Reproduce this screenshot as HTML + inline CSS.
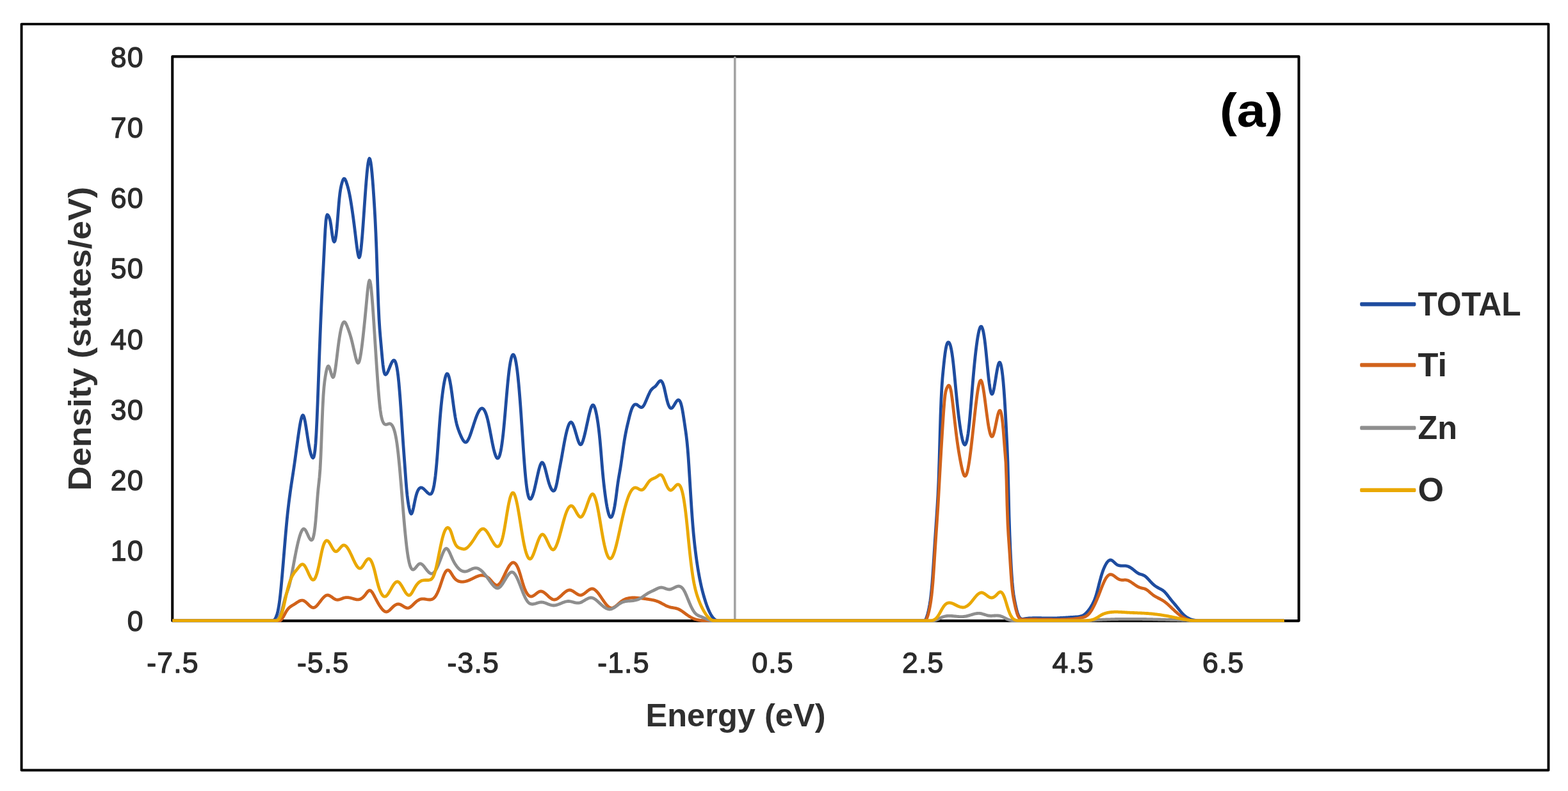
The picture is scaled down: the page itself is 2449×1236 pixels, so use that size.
<!DOCTYPE html>
<html lang="en">
<head>
<meta charset="utf-8">
<title>Density of states (a)</title>
<style>
html, body { margin: 0; padding: 0; background: #ffffff; }
body { width: 2449px; height: 1236px; overflow: hidden; }
svg { display: block; }
text { font-family: "Liberation Sans", sans-serif; }
.tick { font-size: 44.5px; letter-spacing: 1.2px; fill: #2b2b2b; stroke: #2b2b2b; stroke-width: 1.3px; stroke-linejoin: round; }
.title { font-size: 50.5px; font-weight: bold; fill: #303030; }
.leg { font-size: 52px; font-weight: bold; fill: #2a2a2a; }
.tag { font-size: 75px; font-weight: bold; fill: #000000; }
</style>
</head>
<body>
<svg width="2449" height="1236" viewBox="0 0 2449 1236">
<rect x="0" y="0" width="2449" height="1236" fill="#ffffff"/>
<rect x="33.6" y="37.6" width="2384.9" height="1165.9" fill="none" stroke="#000" stroke-width="3.9" stroke-linejoin="round"/>
<rect x="269.25" y="88.4" width="1759.35" height="881.70" fill="none" stroke="#000" stroke-width="4.1" stroke-linejoin="round"/>
<line x1="1147.8" y1="88.4" x2="1147.8" y2="970.1" stroke="#a3a3a3" stroke-width="3.6"/>
<defs><clipPath id="plotclip"><rect x="269.25" y="86" width="1761.3" height="886.0"/></clipPath></defs>
<g clip-path="url(#plotclip)">
<path d="M269.2 970.0 L422.0 970.0 L423.0 970.0 L424.0 970.0 L425.0 970.0 L426.0 970.0 L427.0 969.7 L428.0 969.0 L429.0 968.0 L430.0 966.5 L431.0 964.5 L432.0 962.0 L433.0 958.9 L434.0 955.0 L435.0 950.1 L436.0 944.0 L437.0 936.5 L438.0 927.7 L439.0 917.9 L440.0 907.2 L441.0 895.8 L442.0 884.0 L443.0 871.9 L444.0 859.8 L445.0 847.7 L446.0 836.0 L447.0 824.7 L448.0 814.0 L449.0 804.1 L450.0 795.0 L451.0 786.5 L452.0 778.6 L453.0 771.1 L454.0 764.0 L455.0 757.2 L456.0 750.6 L457.0 744.1 L458.0 737.5 L459.0 730.9 L460.0 724.0 L461.0 716.8 L462.0 709.5 L463.0 702.0 L464.0 694.6 L465.0 687.2 L466.0 680.1 L467.0 673.3 L468.0 667.0 L469.0 661.2 L470.0 656.3 L471.0 652.4 L472.0 649.8 L473.0 648.8 L474.0 649.5 L475.0 652.1 L476.0 656.1 L477.0 661.3 L478.0 667.3 L479.0 673.8 L480.0 680.5 L481.0 687.0 L482.0 693.1 L483.0 698.5 L484.0 703.4 L485.0 707.5 L486.0 710.9 L487.0 713.4 L488.0 715.0 L489.0 715.5 L490.0 714.3 L491.0 710.5 L492.0 703.6 L493.0 692.7 L494.0 677.0 L495.0 656.2 L496.0 631.6 L497.0 604.7 L498.0 577.0 L499.0 550.0 L500.0 524.2 L501.0 499.7 L502.0 477.0 L503.0 456.1 L504.0 436.4 L505.0 417.3 L506.0 397.9 L507.0 377.9 L508.0 359.1 L509.0 345.3 L510.0 338.1 L511.0 335.6 L512.0 336.0 L513.0 337.4 L514.0 339.2 L515.0 342.0 L516.0 346.3 L517.0 352.5 L518.0 360.0 L519.0 367.4 L520.0 373.2 L521.0 376.8 L522.0 378.0 L523.0 376.8 L524.0 373.1 L525.0 366.9 L526.0 358.0 L527.0 346.6 L528.0 333.9 L529.0 321.2 L530.0 310.0 L531.0 301.3 L532.0 294.9 L533.0 290.0 L534.0 286.1 L535.0 282.9 L536.0 280.5 L537.0 279.2 L538.0 279.1 L539.0 280.2 L540.0 282.2 L541.0 284.9 L542.0 288.0 L543.0 291.4 L544.0 295.2 L545.0 299.3 L546.0 304.0 L547.0 309.3 L548.0 315.1 L549.0 321.3 L550.0 328.0 L551.0 335.0 L552.0 342.3 L553.0 350.0 L554.0 358.0 L555.0 366.3 L556.0 374.6 L557.0 382.6 L558.0 390.0 L559.0 396.3 L560.0 400.8 L561.0 402.5 L562.0 400.7 L563.0 395.7 L564.0 388.0 L565.0 378.0 L566.0 366.1 L567.0 352.9 L568.0 338.9 L569.0 324.4 L570.0 310.0 L571.0 296.1 L572.0 283.2 L573.0 271.7 L574.0 261.9 L575.0 254.4 L576.0 249.4 L577.0 247.5 L578.0 248.9 L579.0 253.4 L580.0 260.6 L581.0 270.3 L582.0 281.9 L583.0 295.3 L584.0 310.0 L585.0 325.9 L586.0 343.9 L587.0 364.9 L588.0 390.0 L589.0 419.4 L590.0 449.8 L591.0 477.0 L592.0 497.9 L593.0 513.6 L594.0 525.9 L595.0 537.0 L596.0 548.3 L597.0 559.3 L598.0 569.2 L599.0 577.0 L600.0 582.0 L601.0 584.6 L602.0 585.4 L603.0 585.0 L604.0 583.9 L605.0 582.3 L606.0 580.2 L607.0 577.9 L608.0 575.5 L609.0 573.0 L610.0 570.5 L611.0 568.2 L612.0 566.2 L613.0 564.6 L614.0 563.5 L615.0 563.0 L616.0 563.2 L617.0 564.4 L618.0 566.6 L619.0 570.0 L620.0 574.7 L621.0 581.0 L622.0 589.0 L623.0 598.8 L624.0 610.2 L625.0 623.0 L626.0 637.0 L627.0 651.9 L628.0 667.3 L629.0 682.5 L630.0 697.0 L631.0 710.6 L632.0 724.0 L633.0 737.9 L634.0 751.6 L635.0 764.0 L636.0 774.1 L637.0 782.2 L638.0 788.7 L639.0 794.0 L640.0 798.4 L641.0 801.5 L642.0 803.0 L643.0 802.5 L644.0 800.3 L645.0 796.8 L646.0 792.5 L647.0 787.6 L648.0 782.6 L649.0 778.0 L650.0 774.0 L651.0 770.7 L652.0 768.0 L653.0 765.9 L654.0 764.3 L655.0 763.1 L656.0 762.4 L657.0 762.0 L658.0 762.0 L659.0 762.2 L660.0 762.7 L661.0 763.3 L662.0 764.1 L663.0 765.1 L664.0 766.1 L665.0 767.1 L666.0 768.1 L667.0 769.2 L668.0 770.1 L669.0 770.9 L670.0 771.6 L671.0 772.1 L672.0 772.2 L673.0 771.9 L674.0 771.0 L675.0 769.2 L676.0 766.6 L677.0 762.9 L678.0 758.0 L679.0 751.7 L680.0 744.1 L681.0 734.8 L682.0 724.0 L683.0 711.6 L684.0 698.1 L685.0 684.1 L686.0 670.2 L687.0 657.0 L688.0 645.0 L689.0 634.3 L690.0 624.8 L691.0 616.3 L692.0 608.8 L693.0 602.2 L694.0 596.5 L695.0 591.7 L696.0 587.9 L697.0 585.3 L698.0 584.0 L699.0 584.1 L700.0 585.5 L701.0 588.2 L702.0 592.0 L703.0 596.8 L704.0 602.5 L705.0 609.0 L706.0 616.2 L707.0 623.7 L708.0 631.3 L709.0 638.6 L710.0 645.4 L711.0 651.6 L712.0 657.0 L713.0 661.5 L714.0 665.3 L715.0 668.6 L716.0 671.5 L717.0 674.2 L718.0 676.8 L719.0 679.2 L720.0 681.5 L721.0 683.7 L722.0 685.6 L723.0 687.4 L724.0 688.9 L725.0 690.0 L726.0 690.8 L727.0 691.1 L728.0 691.0 L729.0 690.3 L730.0 689.2 L731.0 687.6 L732.0 685.7 L733.0 683.4 L734.0 680.9 L735.0 678.1 L736.0 675.2 L737.0 672.1 L738.0 669.0 L739.0 665.9 L740.0 662.8 L741.0 659.7 L742.0 656.8 L743.0 653.9 L744.0 651.2 L745.0 648.6 L746.0 646.3 L747.0 644.2 L748.0 642.3 L749.0 640.7 L750.0 639.5 L751.0 638.6 L752.0 638.1 L753.0 638.0 L754.0 638.3 L755.0 639.1 L756.0 640.3 L757.0 641.9 L758.0 644.0 L759.0 646.5 L760.0 649.5 L761.0 653.0 L762.0 657.0 L763.0 661.4 L764.0 666.2 L765.0 671.3 L766.0 676.6 L767.0 681.8 L768.0 687.1 L769.0 692.2 L770.0 697.0 L771.0 701.5 L772.0 705.5 L773.0 708.9 L774.0 711.8 L775.0 714.1 L776.0 715.5 L777.0 716.2 L778.0 716.0 L779.0 714.8 L780.0 712.7 L781.0 709.5 L782.0 705.2 L783.0 699.9 L784.0 693.4 L785.0 685.8 L786.0 677.0 L787.0 667.0 L788.0 656.2 L789.0 644.7 L790.0 632.9 L791.0 621.1 L792.0 609.7 L793.0 598.9 L794.0 589.0 L795.0 580.3 L796.0 572.8 L797.0 566.6 L798.0 561.7 L799.0 557.9 L800.0 555.4 L801.0 554.2 L802.0 554.1 L803.0 555.4 L804.0 557.8 L805.0 561.5 L806.0 566.5 L807.0 572.8 L808.0 580.2 L809.0 589.0 L810.0 599.0 L811.0 610.2 L812.0 622.5 L813.0 635.8 L814.0 650.0 L815.0 665.0 L816.0 680.3 L817.0 695.6 L818.0 710.3 L819.0 724.0 L820.0 736.3 L821.0 747.1 L822.0 756.4 L823.0 764.0 L824.0 770.0 L825.0 774.4 L826.0 777.5 L827.0 779.3 L828.0 779.9 L829.0 779.6 L830.0 778.4 L831.0 776.5 L832.0 774.0 L833.0 770.9 L834.0 767.3 L835.0 763.3 L836.0 759.0 L837.0 754.6 L838.0 750.0 L839.0 745.4 L840.0 740.9 L841.0 736.6 L842.0 732.7 L843.0 729.2 L844.0 726.3 L845.0 724.2 L846.0 722.9 L847.0 722.6 L848.0 723.4 L849.0 725.0 L850.0 727.5 L851.0 730.6 L852.0 734.2 L853.0 738.1 L854.0 742.1 L855.0 746.1 L856.0 750.0 L857.0 753.5 L858.0 756.7 L859.0 759.5 L860.0 761.9 L861.0 763.9 L862.0 765.4 L863.0 766.5 L864.0 767.0 L865.0 767.0 L866.0 766.3 L867.0 764.7 L868.0 762.0 L869.0 758.2 L870.0 753.5 L871.0 748.2 L872.0 742.6 L873.0 737.0 L874.0 731.7 L875.0 726.5 L876.0 721.3 L877.0 716.0 L878.0 710.4 L879.0 704.7 L880.0 699.0 L881.0 693.5 L882.0 688.2 L883.0 683.3 L884.0 678.6 L885.0 674.4 L886.0 670.6 L887.0 667.3 L888.0 664.5 L889.0 662.3 L890.0 660.7 L891.0 659.8 L892.0 659.6 L893.0 660.2 L894.0 661.5 L895.0 663.4 L896.0 665.8 L897.0 668.6 L898.0 671.8 L899.0 675.2 L900.0 678.7 L901.0 682.2 L902.0 685.5 L903.0 688.6 L904.0 691.2 L905.0 693.2 L906.0 694.4 L907.0 694.8 L908.0 694.2 L909.0 692.6 L910.0 690.2 L911.0 687.2 L912.0 683.7 L913.0 679.8 L914.0 675.6 L915.0 671.2 L916.0 666.6 L917.0 662.0 L918.0 657.4 L919.0 652.8 L920.0 648.4 L921.0 644.3 L922.0 640.6 L923.0 637.5 L924.0 635.0 L925.0 633.4 L926.0 632.8 L927.0 633.2 L928.0 634.7 L929.0 637.0 L930.0 640.3 L931.0 644.4 L932.0 649.3 L933.0 655.0 L934.0 661.5 L935.0 669.0 L936.0 677.6 L937.0 687.5 L938.0 698.7 L939.0 710.8 L940.0 723.2 L941.0 735.0 L942.0 745.7 L943.0 755.3 L944.0 763.9 L945.0 771.9 L946.0 779.2 L947.0 785.8 L948.0 791.6 L949.0 796.6 L950.0 800.8 L951.0 804.2 L952.0 806.6 L953.0 808.0 L954.0 808.4 L955.0 807.9 L956.0 806.4 L957.0 803.9 L958.0 800.5 L959.0 796.2 L960.0 791.0 L961.0 784.9 L962.0 778.0 L963.0 770.3 L964.0 762.4 L965.0 755.0 L966.0 748.5 L967.0 742.6 L968.0 736.9 L969.0 731.0 L970.0 724.5 L971.0 717.5 L972.0 710.3 L973.0 703.0 L974.0 696.0 L975.0 689.4 L976.0 683.5 L977.0 678.0 L978.0 673.0 L979.0 668.3 L980.0 663.9 L981.0 659.7 L982.0 655.5 L983.0 651.4 L984.0 647.6 L985.0 644.0 L986.0 640.9 L987.0 638.2 L988.0 636.0 L989.0 634.4 L990.0 633.1 L991.0 632.3 L992.0 631.9 L993.0 631.8 L994.0 632.0 L995.0 632.5 L996.0 633.2 L997.0 634.0 L998.0 634.8 L999.0 635.5 L1000.0 636.1 L1001.0 636.5 L1002.0 636.6 L1003.0 636.2 L1004.0 635.5 L1005.0 634.3 L1006.0 632.7 L1007.0 630.8 L1008.0 628.6 L1009.0 626.3 L1010.0 623.9 L1011.0 621.5 L1012.0 619.1 L1013.0 616.9 L1014.0 614.7 L1015.0 612.7 L1016.0 610.9 L1017.0 609.4 L1018.0 608.2 L1019.0 607.2 L1020.0 606.3 L1021.0 605.6 L1022.0 604.9 L1023.0 604.1 L1024.0 603.2 L1025.0 602.1 L1026.0 600.8 L1027.0 599.4 L1028.0 598.0 L1029.0 596.7 L1030.0 595.7 L1031.0 595.1 L1032.0 595.0 L1033.0 595.5 L1034.0 596.7 L1035.0 598.5 L1036.0 601.1 L1037.0 604.4 L1038.0 608.4 L1039.0 612.9 L1040.0 617.5 L1041.0 622.0 L1042.0 626.2 L1043.0 629.7 L1044.0 632.6 L1045.0 634.9 L1046.0 636.6 L1047.0 637.6 L1048.0 638.0 L1049.0 637.8 L1050.0 637.1 L1051.0 636.0 L1052.0 634.5 L1053.0 632.9 L1054.0 631.2 L1055.0 629.5 L1056.0 627.9 L1057.0 626.6 L1058.0 625.6 L1059.0 625.0 L1060.0 625.0 L1061.0 625.6 L1062.0 626.9 L1063.0 629.1 L1064.0 632.2 L1065.0 636.4 L1066.0 641.5 L1067.0 647.4 L1068.0 653.8 L1069.0 660.5 L1070.0 667.3 L1071.0 674.2 L1072.0 681.7 L1073.0 690.5 L1074.0 700.9 L1075.0 713.7 L1076.0 728.5 L1077.0 744.6 L1078.0 761.1 L1079.0 777.2 L1080.0 792.6 L1081.0 806.9 L1082.0 820.0 L1083.0 831.7 L1084.0 842.1 L1085.0 851.4 L1086.0 860.0 L1087.0 867.9 L1088.0 875.3 L1089.0 882.1 L1090.0 888.5 L1091.0 894.4 L1092.0 900.0 L1093.0 905.2 L1094.0 910.1 L1095.0 914.7 L1096.0 919.0 L1097.0 923.1 L1098.0 926.9 L1099.0 930.5 L1100.0 934.0 L1101.0 937.3 L1102.0 940.4 L1103.0 943.4 L1104.0 946.3 L1105.0 948.9 L1106.0 951.5 L1107.0 953.8 L1108.0 956.0 L1109.0 958.0 L1110.0 959.9 L1111.0 961.6 L1112.0 963.1 L1113.0 964.5 L1114.0 965.7 L1115.0 966.8 L1116.0 967.7 L1117.0 968.4 L1118.0 969.0 L1119.0 969.4 L1120.0 969.7 L1121.0 969.9 L1122.0 970.0 L1123.0 970.0 L1124.0 970.0 L1125.0 970.0 L1126.0 970.0 L1438.0 970.0 L1439.0 970.0 L1440.0 970.0 L1441.0 970.0 L1442.0 970.0 L1443.0 970.0 L1444.0 970.0 L1445.0 969.0 L1446.0 967.4 L1447.0 965.1 L1448.0 962.3 L1449.0 958.8 L1450.0 954.7 L1451.0 950.0 L1452.0 944.6 L1453.0 938.3 L1454.0 930.6 L1455.0 921.3 L1456.0 910.0 L1457.0 896.5 L1458.0 881.5 L1459.0 865.7 L1460.0 850.0 L1461.0 834.9 L1462.0 820.3 L1463.0 805.5 L1464.0 790.0 L1465.0 772.9 L1466.0 750.9 L1467.0 720.7 L1468.0 684.5 L1469.0 650.0 L1470.0 623.6 L1471.0 604.7 L1472.0 590.9 L1473.0 580.0 L1474.0 570.0 L1475.0 560.8 L1476.0 552.7 L1477.0 546.0 L1478.0 541.0 L1479.0 537.5 L1480.0 535.4 L1481.0 534.7 L1482.0 535.0 L1483.0 536.4 L1484.0 538.7 L1485.0 542.2 L1486.0 546.9 L1487.0 552.8 L1488.0 560.0 L1489.0 568.5 L1490.0 578.0 L1491.0 588.3 L1492.0 598.9 L1493.0 609.6 L1494.0 620.0 L1495.0 629.9 L1496.0 639.1 L1497.0 647.7 L1498.0 655.8 L1499.0 663.2 L1500.0 670.0 L1501.0 676.2 L1502.0 681.6 L1503.0 686.3 L1504.0 690.1 L1505.0 692.8 L1506.0 694.5 L1507.0 695.1 L1508.0 694.3 L1509.0 692.3 L1510.0 688.9 L1511.0 684.1 L1512.0 677.8 L1513.0 670.0 L1514.0 660.7 L1515.0 650.1 L1516.0 638.6 L1517.0 626.5 L1518.0 614.2 L1519.0 601.9 L1520.0 590.0 L1521.0 578.8 L1522.0 568.3 L1523.0 558.5 L1524.0 549.6 L1525.0 541.4 L1526.0 534.0 L1527.0 527.4 L1528.0 521.8 L1529.0 517.2 L1530.0 513.6 L1531.0 511.2 L1532.0 510.1 L1533.0 510.3 L1534.0 511.9 L1535.0 514.9 L1536.0 519.2 L1537.0 524.8 L1538.0 531.7 L1539.0 540.0 L1540.0 549.5 L1541.0 559.7 L1542.0 570.2 L1543.0 580.5 L1544.0 590.0 L1545.0 598.3 L1546.0 605.2 L1547.0 610.6 L1548.0 614.2 L1549.0 615.9 L1550.0 615.6 L1551.0 613.4 L1552.0 609.5 L1553.0 604.4 L1554.0 598.6 L1555.0 592.3 L1556.0 586.0 L1557.0 580.1 L1558.0 574.8 L1559.0 570.5 L1560.0 567.5 L1561.0 566.2 L1562.0 566.6 L1563.0 568.9 L1564.0 573.1 L1565.0 579.2 L1566.0 587.2 L1567.0 597.3 L1568.0 609.4 L1569.0 623.6 L1570.0 640.0 L1571.0 658.4 L1572.0 678.0 L1573.0 698.1 L1574.0 723.0 L1575.0 763.0 L1576.0 805.5 L1577.0 835.6 L1578.0 858.9 L1579.0 879.0 L1580.0 896.1 L1581.0 910.0 L1582.0 920.6 L1583.0 928.6 L1584.0 934.8 L1585.0 940.0 L1586.0 944.8 L1587.0 949.3 L1588.0 953.4 L1589.0 957.0 L1590.0 960.0 L1591.0 962.4 L1592.0 964.2 L1593.0 965.6 L1594.0 966.4 L1595.0 967.0 L1596.0 967.2 L1597.0 967.3 L1598.0 967.2 L1599.0 967.0 L1600.0 966.8 L1601.0 966.7 L1602.0 966.6 L1603.0 966.4 L1604.0 966.3 L1605.0 966.2 L1606.0 966.1 L1607.0 966.0 L1608.0 966.0 L1609.0 965.9 L1610.0 965.8 L1611.0 965.8 L1612.0 965.8 L1613.0 965.7 L1614.0 965.7 L1615.0 965.7 L1616.0 965.7 L1617.0 965.6 L1618.0 965.6 L1619.0 965.6 L1620.0 965.7 L1621.0 965.7 L1622.0 965.7 L1623.0 965.7 L1624.0 965.7 L1625.0 965.7 L1626.0 965.7 L1627.0 965.8 L1628.0 965.8 L1629.0 965.8 L1630.0 965.8 L1631.0 965.9 L1632.0 965.9 L1633.0 965.9 L1634.0 965.9 L1635.0 966.0 L1636.0 966.0 L1637.0 966.0 L1638.0 966.0 L1639.0 966.0 L1640.0 966.0 L1641.0 966.0 L1642.0 966.0 L1643.0 966.0 L1644.0 966.0 L1645.0 965.9 L1646.0 965.9 L1647.0 965.9 L1648.0 965.9 L1649.0 965.8 L1650.0 965.8 L1651.0 965.8 L1652.0 965.7 L1653.0 965.7 L1654.0 965.6 L1655.0 965.6 L1656.0 965.5 L1657.0 965.5 L1658.0 965.4 L1659.0 965.4 L1660.0 965.3 L1661.0 965.2 L1662.0 965.2 L1663.0 965.1 L1664.0 965.1 L1665.0 965.0 L1666.0 964.9 L1667.0 964.9 L1668.0 964.8 L1669.0 964.7 L1670.0 964.7 L1671.0 964.6 L1672.0 964.5 L1673.0 964.5 L1674.0 964.4 L1675.0 964.3 L1676.0 964.3 L1677.0 964.2 L1678.0 964.1 L1679.0 964.1 L1680.0 964.0 L1681.0 963.9 L1682.0 963.9 L1683.0 963.8 L1684.0 963.7 L1685.0 963.6 L1686.0 963.4 L1687.0 963.2 L1688.0 962.9 L1689.0 962.6 L1690.0 962.3 L1691.0 961.8 L1692.0 961.3 L1693.0 960.7 L1694.0 960.0 L1695.0 959.2 L1696.0 958.3 L1697.0 957.3 L1698.0 956.2 L1699.0 955.1 L1700.0 953.8 L1701.0 952.5 L1702.0 951.1 L1703.0 949.6 L1704.0 948.0 L1705.0 946.3 L1706.0 944.6 L1707.0 942.7 L1708.0 940.6 L1709.0 938.4 L1710.0 935.9 L1711.0 933.1 L1712.0 930.0 L1713.0 926.6 L1714.0 923.0 L1715.0 919.1 L1716.0 915.2 L1717.0 911.2 L1718.0 907.3 L1719.0 903.6 L1720.0 900.0 L1721.0 896.7 L1722.0 893.7 L1723.0 890.9 L1724.0 888.4 L1725.0 886.1 L1726.0 884.0 L1727.0 882.1 L1728.0 880.4 L1729.0 878.9 L1730.0 877.6 L1731.0 876.6 L1732.0 875.8 L1733.0 875.3 L1734.0 875.0 L1735.0 875.1 L1736.0 875.4 L1737.0 875.9 L1738.0 876.7 L1739.0 877.5 L1740.0 878.4 L1741.0 879.4 L1742.0 880.3 L1743.0 881.2 L1744.0 882.0 L1745.0 882.6 L1746.0 883.1 L1747.0 883.5 L1748.0 883.7 L1749.0 883.9 L1750.0 884.0 L1751.0 884.1 L1752.0 884.1 L1753.0 884.1 L1754.0 884.1 L1755.0 884.1 L1756.0 884.1 L1757.0 884.1 L1758.0 884.2 L1759.0 884.3 L1760.0 884.5 L1761.0 884.8 L1762.0 885.1 L1763.0 885.5 L1764.0 886.0 L1765.0 886.5 L1766.0 887.1 L1767.0 887.8 L1768.0 888.5 L1769.0 889.2 L1770.0 890.0 L1771.0 890.8 L1772.0 891.6 L1773.0 892.5 L1774.0 893.3 L1775.0 894.0 L1776.0 894.8 L1777.0 895.4 L1778.0 896.0 L1779.0 896.5 L1780.0 896.9 L1781.0 897.2 L1782.0 897.5 L1783.0 897.8 L1784.0 898.1 L1785.0 898.5 L1786.0 898.9 L1787.0 899.4 L1788.0 900.0 L1789.0 900.7 L1790.0 901.5 L1791.0 902.5 L1792.0 903.5 L1793.0 904.5 L1794.0 905.6 L1795.0 906.7 L1796.0 907.8 L1797.0 908.9 L1798.0 910.0 L1799.0 911.0 L1800.0 912.0 L1801.0 912.9 L1802.0 913.8 L1803.0 914.6 L1804.0 915.4 L1805.0 916.1 L1806.0 916.8 L1807.0 917.4 L1808.0 918.0 L1809.0 918.5 L1810.0 919.1 L1811.0 919.6 L1812.0 920.1 L1813.0 920.6 L1814.0 921.1 L1815.0 921.8 L1816.0 922.4 L1817.0 923.2 L1818.0 924.0 L1819.0 924.9 L1820.0 926.0 L1821.0 927.1 L1822.0 928.3 L1823.0 929.5 L1824.0 930.8 L1825.0 932.1 L1826.0 933.4 L1827.0 934.7 L1828.0 936.0 L1829.0 937.3 L1830.0 938.5 L1831.0 939.7 L1832.0 940.9 L1833.0 942.0 L1834.0 943.2 L1835.0 944.4 L1836.0 945.6 L1837.0 946.8 L1838.0 948.0 L1839.0 949.2 L1840.0 950.5 L1841.0 951.8 L1842.0 953.0 L1843.0 954.3 L1844.0 955.5 L1845.0 956.7 L1846.0 957.9 L1847.0 959.0 L1848.0 960.0 L1849.0 961.0 L1850.0 961.9 L1851.0 962.7 L1852.0 963.5 L1853.0 964.2 L1854.0 964.9 L1855.0 965.5 L1856.0 966.0 L1857.0 966.5 L1858.0 967.0 L1859.0 967.4 L1860.0 967.8 L1861.0 968.1 L1862.0 968.4 L1863.0 968.6 L1864.0 968.9 L1865.0 969.0 L1866.0 969.2 L1867.0 969.4 L1868.0 969.5 L1869.0 969.6 L1870.0 969.7 L1871.0 969.8 L1872.0 969.9 L1873.0 969.9 L1874.0 970.0 L1875.0 970.0 L1876.0 970.0 L2005.8 970.0" fill="none" stroke="#1e4c9f" stroke-width="4.8" stroke-linejoin="round" stroke-linecap="butt"/>
<path d="M269.2 970.0 L432.0 970.0 L433.0 970.0 L434.0 970.0 L435.0 970.0 L436.0 970.0 L437.0 970.0 L438.0 969.5 L439.0 968.7 L440.0 967.5 L441.0 966.1 L442.0 964.5 L443.0 962.8 L444.0 961.0 L445.0 959.2 L446.0 957.3 L447.0 955.6 L448.0 954.0 L449.0 952.6 L450.0 951.3 L451.0 950.2 L452.0 949.3 L453.0 948.4 L454.0 947.7 L455.0 947.0 L456.0 946.4 L457.0 945.8 L458.0 945.2 L459.0 944.6 L460.0 944.0 L461.0 943.4 L462.0 942.7 L463.0 942.0 L464.0 941.3 L465.0 940.7 L466.0 940.1 L467.0 939.5 L468.0 939.0 L469.0 938.6 L470.0 938.3 L471.0 938.2 L472.0 938.1 L473.0 938.2 L474.0 938.5 L475.0 939.0 L476.0 939.6 L477.0 940.3 L478.0 941.1 L479.0 942.1 L480.0 943.0 L481.0 944.0 L482.0 945.0 L483.0 946.0 L484.0 946.9 L485.0 947.7 L486.0 948.4 L487.0 948.9 L488.0 949.3 L489.0 949.5 L490.0 949.5 L491.0 949.2 L492.0 948.8 L493.0 948.1 L494.0 947.2 L495.0 946.2 L496.0 945.1 L497.0 943.9 L498.0 942.6 L499.0 941.3 L500.0 940.0 L501.0 938.7 L502.0 937.4 L503.0 936.1 L504.0 935.0 L505.0 933.9 L506.0 932.9 L507.0 932.0 L508.0 931.2 L509.0 930.6 L510.0 930.2 L511.0 930.0 L512.0 930.0 L513.0 930.1 L514.0 930.5 L515.0 930.9 L516.0 931.5 L517.0 932.1 L518.0 932.8 L519.0 933.5 L520.0 934.3 L521.0 935.0 L522.0 935.6 L523.0 936.2 L524.0 936.7 L525.0 937.0 L526.0 937.2 L527.0 937.3 L528.0 937.2 L529.0 937.1 L530.0 936.8 L531.0 936.5 L532.0 936.2 L533.0 935.8 L534.0 935.4 L535.0 935.0 L536.0 934.6 L537.0 934.3 L538.0 934.0 L539.0 933.8 L540.0 933.7 L541.0 933.6 L542.0 933.6 L543.0 933.6 L544.0 933.7 L545.0 933.8 L546.0 934.0 L547.0 934.2 L548.0 934.5 L549.0 934.7 L550.0 935.0 L551.0 935.3 L552.0 935.6 L553.0 935.9 L554.0 936.2 L555.0 936.4 L556.0 936.6 L557.0 936.8 L558.0 936.9 L559.0 936.9 L560.0 936.8 L561.0 936.7 L562.0 936.4 L563.0 936.0 L564.0 935.5 L565.0 934.9 L566.0 934.1 L567.0 933.3 L568.0 932.3 L569.0 931.2 L570.0 930.0 L571.0 928.7 L572.0 927.3 L573.0 926.0 L574.0 924.8 L575.0 923.8 L576.0 923.0 L577.0 922.6 L578.0 922.7 L579.0 923.1 L580.0 924.0 L581.0 925.2 L582.0 926.7 L583.0 928.3 L584.0 930.1 L585.0 932.1 L586.0 934.0 L587.0 935.9 L588.0 937.8 L589.0 939.7 L590.0 941.5 L591.0 943.2 L592.0 944.9 L593.0 946.5 L594.0 948.0 L595.0 949.4 L596.0 950.8 L597.0 952.0 L598.0 953.1 L599.0 954.0 L600.0 954.8 L601.0 955.4 L602.0 955.8 L603.0 956.0 L604.0 956.0 L605.0 955.7 L606.0 955.3 L607.0 954.6 L608.0 953.9 L609.0 953.0 L610.0 952.0 L611.0 951.0 L612.0 950.0 L613.0 949.0 L614.0 948.0 L615.0 947.1 L616.0 946.3 L617.0 945.6 L618.0 945.1 L619.0 944.6 L620.0 944.2 L621.0 944.0 L622.0 943.9 L623.0 944.0 L624.0 944.2 L625.0 944.6 L626.0 945.0 L627.0 945.5 L628.0 946.1 L629.0 946.7 L630.0 947.4 L631.0 948.0 L632.0 948.6 L633.0 949.1 L634.0 949.5 L635.0 949.9 L636.0 950.1 L637.0 950.1 L638.0 950.0 L639.0 949.7 L640.0 949.2 L641.0 948.5 L642.0 947.8 L643.0 946.9 L644.0 946.0 L645.0 945.0 L646.0 944.0 L647.0 943.0 L648.0 942.0 L649.0 941.1 L650.0 940.2 L651.0 939.4 L652.0 938.7 L653.0 938.1 L654.0 937.5 L655.0 937.0 L656.0 936.6 L657.0 936.2 L658.0 936.0 L659.0 935.9 L660.0 935.8 L661.0 935.8 L662.0 935.9 L663.0 936.0 L664.0 936.1 L665.0 936.3 L666.0 936.5 L667.0 936.7 L668.0 936.8 L669.0 936.9 L670.0 937.0 L671.0 937.0 L672.0 937.0 L673.0 936.9 L674.0 936.7 L675.0 936.3 L676.0 935.8 L677.0 935.2 L678.0 934.3 L679.0 933.3 L680.0 932.0 L681.0 930.5 L682.0 928.7 L683.0 926.7 L684.0 924.5 L685.0 922.2 L686.0 919.6 L687.0 916.9 L688.0 914.0 L689.0 911.0 L690.0 908.0 L691.0 905.0 L692.0 902.1 L693.0 899.4 L694.0 897.0 L695.0 895.0 L696.0 893.3 L697.0 892.1 L698.0 891.2 L699.0 890.8 L700.0 890.8 L701.0 891.2 L702.0 892.1 L703.0 893.2 L704.0 894.6 L705.0 896.2 L706.0 897.8 L707.0 899.5 L708.0 901.0 L709.0 902.4 L710.0 903.6 L711.0 904.7 L712.0 905.6 L713.0 906.4 L714.0 907.1 L715.0 907.6 L716.0 908.1 L717.0 908.4 L718.0 908.7 L719.0 908.9 L720.0 909.0 L721.0 909.1 L722.0 909.1 L723.0 909.1 L724.0 909.0 L725.0 908.8 L726.0 908.7 L727.0 908.5 L728.0 908.2 L729.0 907.9 L730.0 907.6 L731.0 907.2 L732.0 906.9 L733.0 906.4 L734.0 906.0 L735.0 905.5 L736.0 905.1 L737.0 904.6 L738.0 904.1 L739.0 903.6 L740.0 903.1 L741.0 902.6 L742.0 902.1 L743.0 901.6 L744.0 901.2 L745.0 900.8 L746.0 900.4 L747.0 900.0 L748.0 899.7 L749.0 899.5 L750.0 899.2 L751.0 899.1 L752.0 899.0 L753.0 899.0 L754.0 899.0 L755.0 899.1 L756.0 899.3 L757.0 899.6 L758.0 900.0 L759.0 900.4 L760.0 900.9 L761.0 901.6 L762.0 902.3 L763.0 903.1 L764.0 904.0 L765.0 905.0 L766.0 906.1 L767.0 907.2 L768.0 908.4 L769.0 909.5 L770.0 910.6 L771.0 911.6 L772.0 912.5 L773.0 913.3 L774.0 913.9 L775.0 914.3 L776.0 914.4 L777.0 914.4 L778.0 914.0 L779.0 913.3 L780.0 912.4 L781.0 911.2 L782.0 909.8 L783.0 908.1 L784.0 906.4 L785.0 904.4 L786.0 902.4 L787.0 900.4 L788.0 898.2 L789.0 896.1 L790.0 894.0 L791.0 891.9 L792.0 890.0 L793.0 888.1 L794.0 886.3 L795.0 884.7 L796.0 883.2 L797.0 882.0 L798.0 880.9 L799.0 880.0 L800.0 879.4 L801.0 879.1 L802.0 879.0 L803.0 879.3 L804.0 879.8 L805.0 880.7 L806.0 881.9 L807.0 883.4 L808.0 885.3 L809.0 887.5 L810.0 890.0 L811.0 892.9 L812.0 896.0 L813.0 899.3 L814.0 902.8 L815.0 906.2 L816.0 909.7 L817.0 912.9 L818.0 916.0 L819.0 918.8 L820.0 921.3 L821.0 923.5 L822.0 925.5 L823.0 927.2 L824.0 928.6 L825.0 929.7 L826.0 930.7 L827.0 931.3 L828.0 931.8 L829.0 932.0 L830.0 932.0 L831.0 931.8 L832.0 931.4 L833.0 930.9 L834.0 930.3 L835.0 929.6 L836.0 928.8 L837.0 928.0 L838.0 927.3 L839.0 926.5 L840.0 925.8 L841.0 925.1 L842.0 924.6 L843.0 924.2 L844.0 924.0 L845.0 924.0 L846.0 924.1 L847.0 924.4 L848.0 924.8 L849.0 925.4 L850.0 926.0 L851.0 926.8 L852.0 927.6 L853.0 928.5 L854.0 929.4 L855.0 930.3 L856.0 931.2 L857.0 932.2 L858.0 933.1 L859.0 933.9 L860.0 934.7 L861.0 935.4 L862.0 936.0 L863.0 936.5 L864.0 936.8 L865.0 937.0 L866.0 937.0 L867.0 936.9 L868.0 936.7 L869.0 936.3 L870.0 935.8 L871.0 935.2 L872.0 934.5 L873.0 933.7 L874.0 932.9 L875.0 932.0 L876.0 931.1 L877.0 930.2 L878.0 929.2 L879.0 928.3 L880.0 927.4 L881.0 926.5 L882.0 925.6 L883.0 924.9 L884.0 924.1 L885.0 923.5 L886.0 922.9 L887.0 922.5 L888.0 922.2 L889.0 922.0 L890.0 922.0 L891.0 922.1 L892.0 922.4 L893.0 922.8 L894.0 923.3 L895.0 923.9 L896.0 924.5 L897.0 925.2 L898.0 925.9 L899.0 926.6 L900.0 927.3 L901.0 927.9 L902.0 928.5 L903.0 929.1 L904.0 929.5 L905.0 929.8 L906.0 930.0 L907.0 930.0 L908.0 929.9 L909.0 929.5 L910.0 929.1 L911.0 928.5 L912.0 927.9 L913.0 927.2 L914.0 926.4 L915.0 925.6 L916.0 924.8 L917.0 923.9 L918.0 923.1 L919.0 922.4 L920.0 921.7 L921.0 921.1 L922.0 920.6 L923.0 920.3 L924.0 920.0 L925.0 920.0 L926.0 920.1 L927.0 920.4 L928.0 920.9 L929.0 921.5 L930.0 922.3 L931.0 923.2 L932.0 924.2 L933.0 925.3 L934.0 926.5 L935.0 927.8 L936.0 929.2 L937.0 930.6 L938.0 932.0 L939.0 933.5 L940.0 935.0 L941.0 936.5 L942.0 938.0 L943.0 939.4 L944.0 940.8 L945.0 942.2 L946.0 943.5 L947.0 944.7 L948.0 945.9 L949.0 946.9 L950.0 947.8 L951.0 948.6 L952.0 949.2 L953.0 949.7 L954.0 950.0 L955.0 950.1 L956.0 950.1 L957.0 949.8 L958.0 949.5 L959.0 949.0 L960.0 948.4 L961.0 947.7 L962.0 947.0 L963.0 946.1 L964.0 945.3 L965.0 944.4 L966.0 943.5 L967.0 942.6 L968.0 941.7 L969.0 940.8 L970.0 940.0 L971.0 939.3 L972.0 938.6 L973.0 937.9 L974.0 937.4 L975.0 936.9 L976.0 936.4 L977.0 936.0 L978.0 935.6 L979.0 935.3 L980.0 935.0 L981.0 934.8 L982.0 934.6 L983.0 934.4 L984.0 934.3 L985.0 934.2 L986.0 934.1 L987.0 934.0 L988.0 934.0 L989.0 934.0 L990.0 934.0 L991.0 934.0 L992.0 934.0 L993.0 934.1 L994.0 934.1 L995.0 934.2 L996.0 934.3 L997.0 934.4 L998.0 934.5 L999.0 934.6 L1000.0 934.7 L1001.0 934.8 L1002.0 934.9 L1003.0 935.0 L1004.0 935.2 L1005.0 935.3 L1006.0 935.4 L1007.0 935.6 L1008.0 935.7 L1009.0 935.9 L1010.0 936.0 L1011.0 936.1 L1012.0 936.3 L1013.0 936.4 L1014.0 936.6 L1015.0 936.8 L1016.0 936.9 L1017.0 937.1 L1018.0 937.3 L1019.0 937.5 L1020.0 937.7 L1021.0 937.9 L1022.0 938.2 L1023.0 938.4 L1024.0 938.7 L1025.0 939.0 L1026.0 939.4 L1027.0 939.7 L1028.0 940.1 L1029.0 940.6 L1030.0 941.0 L1031.0 941.5 L1032.0 942.0 L1033.0 942.5 L1034.0 943.1 L1035.0 943.6 L1036.0 944.2 L1037.0 944.7 L1038.0 945.2 L1039.0 945.8 L1040.0 946.3 L1041.0 946.8 L1042.0 947.2 L1043.0 947.6 L1044.0 948.0 L1045.0 948.3 L1046.0 948.6 L1047.0 948.8 L1048.0 949.1 L1049.0 949.3 L1050.0 949.4 L1051.0 949.6 L1052.0 949.8 L1053.0 950.0 L1054.0 950.2 L1055.0 950.4 L1056.0 950.6 L1057.0 950.9 L1058.0 951.2 L1059.0 951.6 L1060.0 952.0 L1061.0 952.5 L1062.0 953.0 L1063.0 953.6 L1064.0 954.2 L1065.0 954.9 L1066.0 955.6 L1067.0 956.3 L1068.0 957.0 L1069.0 957.8 L1070.0 958.5 L1071.0 959.3 L1072.0 960.0 L1073.0 960.7 L1074.0 961.4 L1075.0 962.1 L1076.0 962.8 L1077.0 963.4 L1078.0 964.0 L1079.0 964.6 L1080.0 965.1 L1081.0 965.7 L1082.0 966.1 L1083.0 966.6 L1084.0 967.0 L1085.0 967.4 L1086.0 967.7 L1087.0 968.0 L1088.0 968.2 L1089.0 968.5 L1090.0 968.7 L1091.0 968.9 L1092.0 969.0 L1093.0 969.2 L1094.0 969.3 L1095.0 969.4 L1096.0 969.5 L1097.0 969.6 L1098.0 969.7 L1099.0 969.8 L1100.0 969.9 L1101.0 969.9 L1102.0 970.0 L1103.0 970.0 L1104.0 970.0 L1440.0 970.0 L1441.0 970.0 L1442.0 970.0 L1443.0 970.0 L1444.0 970.0 L1445.0 969.9 L1446.0 969.0 L1447.0 967.4 L1448.0 965.2 L1449.0 962.3 L1450.0 958.8 L1451.0 954.7 L1452.0 950.0 L1453.0 944.6 L1454.0 938.3 L1455.0 930.7 L1456.0 921.3 L1457.0 910.0 L1458.0 896.5 L1459.0 881.4 L1460.0 865.6 L1461.0 850.0 L1462.0 835.1 L1463.0 820.6 L1464.0 805.7 L1465.0 790.0 L1466.0 772.9 L1467.0 755.0 L1468.0 737.0 L1469.0 719.5 L1470.0 702.6 L1471.0 686.1 L1472.0 670.0 L1473.0 654.4 L1474.0 639.9 L1475.0 627.5 L1476.0 618.0 L1477.0 611.9 L1478.0 608.3 L1479.0 606.0 L1480.0 604.1 L1481.0 602.7 L1482.0 602.2 L1483.0 602.9 L1484.0 605.1 L1485.0 609.0 L1486.0 614.7 L1487.0 621.9 L1488.0 630.0 L1489.0 638.6 L1490.0 647.5 L1491.0 656.4 L1492.0 665.3 L1493.0 673.9 L1494.0 682.0 L1495.0 689.5 L1496.0 696.4 L1497.0 702.9 L1498.0 708.9 L1499.0 714.6 L1500.0 720.0 L1501.0 725.2 L1502.0 730.0 L1503.0 734.4 L1504.0 738.1 L1505.0 741.1 L1506.0 743.1 L1507.0 744.0 L1508.0 743.7 L1509.0 742.3 L1510.0 739.8 L1511.0 736.3 L1512.0 731.7 L1513.0 726.3 L1514.0 720.0 L1515.0 712.9 L1516.0 705.2 L1517.0 696.9 L1518.0 688.2 L1519.0 679.2 L1520.0 670.0 L1521.0 660.7 L1522.0 651.5 L1523.0 642.5 L1524.0 633.8 L1525.0 625.6 L1526.0 618.0 L1527.0 611.2 L1528.0 605.2 L1529.0 600.4 L1530.0 596.9 L1531.0 594.8 L1532.0 594.3 L1533.0 595.6 L1534.0 598.6 L1535.0 603.0 L1536.0 608.6 L1537.0 615.2 L1538.0 622.4 L1539.0 630.0 L1540.0 637.8 L1541.0 645.4 L1542.0 652.8 L1543.0 659.8 L1544.0 666.0 L1545.0 671.4 L1546.0 675.7 L1547.0 679.1 L1548.0 681.3 L1549.0 682.3 L1550.0 682.0 L1551.0 680.4 L1552.0 677.7 L1553.0 674.0 L1554.0 669.7 L1555.0 665.0 L1556.0 660.0 L1557.0 655.0 L1558.0 650.4 L1559.0 646.4 L1560.0 643.4 L1561.0 641.7 L1562.0 641.5 L1563.0 643.1 L1564.0 646.8 L1565.0 652.7 L1566.0 660.9 L1567.0 671.7 L1568.0 684.5 L1569.0 697.7 L1570.0 710.0 L1571.0 723.0 L1572.0 750.7 L1573.0 790.0 L1574.0 818.4 L1575.0 836.2 L1576.0 850.0 L1577.0 864.9 L1578.0 880.9 L1579.0 896.4 L1580.0 910.0 L1581.0 920.6 L1582.0 928.6 L1583.0 934.8 L1584.0 940.0 L1585.0 944.8 L1586.0 949.3 L1587.0 953.3 L1588.0 956.9 L1589.0 960.0 L1590.0 962.5 L1591.0 964.4 L1592.0 965.8 L1593.0 966.8 L1594.0 967.4 L1595.0 967.8 L1596.0 968.0 L1597.0 968.0 L1598.0 968.0 L1599.0 968.0 L1600.0 967.9 L1601.0 967.9 L1602.0 967.9 L1603.0 967.8 L1604.0 967.8 L1605.0 967.8 L1606.0 967.8 L1607.0 967.8 L1608.0 967.8 L1609.0 967.7 L1610.0 967.7 L1611.0 967.7 L1612.0 967.7 L1613.0 967.7 L1614.0 967.7 L1615.0 967.7 L1616.0 967.7 L1617.0 967.7 L1618.0 967.7 L1619.0 967.7 L1620.0 967.8 L1621.0 967.8 L1622.0 967.8 L1623.0 967.8 L1624.0 967.8 L1625.0 967.8 L1626.0 967.8 L1627.0 967.8 L1628.0 967.8 L1629.0 967.9 L1630.0 967.9 L1631.0 967.9 L1632.0 967.9 L1633.0 967.9 L1634.0 967.9 L1635.0 967.9 L1636.0 968.0 L1637.0 968.0 L1638.0 968.0 L1639.0 968.0 L1640.0 968.0 L1641.0 968.0 L1642.0 968.0 L1643.0 968.0 L1644.0 968.1 L1645.0 968.1 L1646.0 968.1 L1647.0 968.1 L1648.0 968.1 L1649.0 968.1 L1650.0 968.1 L1651.0 968.1 L1652.0 968.1 L1653.0 968.1 L1654.0 968.1 L1655.0 968.1 L1656.0 968.1 L1657.0 968.0 L1658.0 968.0 L1659.0 968.0 L1660.0 968.0 L1661.0 968.0 L1662.0 968.0 L1663.0 967.9 L1664.0 967.9 L1665.0 967.9 L1666.0 967.8 L1667.0 967.8 L1668.0 967.7 L1669.0 967.7 L1670.0 967.6 L1671.0 967.6 L1672.0 967.5 L1673.0 967.4 L1674.0 967.4 L1675.0 967.3 L1676.0 967.2 L1677.0 967.1 L1678.0 967.0 L1679.0 966.9 L1680.0 966.7 L1681.0 966.6 L1682.0 966.5 L1683.0 966.3 L1684.0 966.2 L1685.0 966.0 L1686.0 965.8 L1687.0 965.6 L1688.0 965.4 L1689.0 965.2 L1690.0 965.0 L1691.0 964.8 L1692.0 964.5 L1693.0 964.2 L1694.0 963.9 L1695.0 963.5 L1696.0 963.0 L1697.0 962.4 L1698.0 961.7 L1699.0 960.9 L1700.0 960.0 L1701.0 958.9 L1702.0 957.7 L1703.0 956.4 L1704.0 954.9 L1705.0 953.4 L1706.0 951.7 L1707.0 949.9 L1708.0 948.0 L1709.0 946.0 L1710.0 944.0 L1711.0 941.8 L1712.0 939.6 L1713.0 937.3 L1714.0 934.9 L1715.0 932.5 L1716.0 930.0 L1717.0 927.4 L1718.0 924.8 L1719.0 922.2 L1720.0 919.7 L1721.0 917.1 L1722.0 914.6 L1723.0 912.3 L1724.0 910.0 L1725.0 907.9 L1726.0 905.9 L1727.0 904.1 L1728.0 902.5 L1729.0 901.2 L1730.0 900.0 L1731.0 899.1 L1732.0 898.4 L1733.0 897.9 L1734.0 897.6 L1735.0 897.6 L1736.0 897.8 L1737.0 898.1 L1738.0 898.6 L1739.0 899.2 L1740.0 899.9 L1741.0 900.7 L1742.0 901.5 L1743.0 902.2 L1744.0 903.0 L1745.0 903.7 L1746.0 904.3 L1747.0 904.9 L1748.0 905.3 L1749.0 905.7 L1750.0 906.0 L1751.0 906.2 L1752.0 906.3 L1753.0 906.3 L1754.0 906.3 L1755.0 906.3 L1756.0 906.2 L1757.0 906.2 L1758.0 906.2 L1759.0 906.3 L1760.0 906.5 L1761.0 906.8 L1762.0 907.1 L1763.0 907.5 L1764.0 908.1 L1765.0 908.6 L1766.0 909.2 L1767.0 909.9 L1768.0 910.6 L1769.0 911.3 L1770.0 912.0 L1771.0 912.7 L1772.0 913.4 L1773.0 914.1 L1774.0 914.8 L1775.0 915.4 L1776.0 916.1 L1777.0 916.6 L1778.0 917.1 L1779.0 917.6 L1780.0 918.0 L1781.0 918.3 L1782.0 918.6 L1783.0 918.8 L1784.0 919.1 L1785.0 919.3 L1786.0 919.5 L1787.0 919.8 L1788.0 920.1 L1789.0 920.5 L1790.0 921.0 L1791.0 921.6 L1792.0 922.3 L1793.0 923.0 L1794.0 923.8 L1795.0 924.7 L1796.0 925.6 L1797.0 926.5 L1798.0 927.3 L1799.0 928.2 L1800.0 929.0 L1801.0 929.8 L1802.0 930.5 L1803.0 931.1 L1804.0 931.8 L1805.0 932.3 L1806.0 932.9 L1807.0 933.4 L1808.0 934.0 L1809.0 934.5 L1810.0 935.0 L1811.0 935.5 L1812.0 936.0 L1813.0 936.6 L1814.0 937.1 L1815.0 937.7 L1816.0 938.3 L1817.0 938.9 L1818.0 939.6 L1819.0 940.3 L1820.0 941.0 L1821.0 941.8 L1822.0 942.6 L1823.0 943.5 L1824.0 944.3 L1825.0 945.3 L1826.0 946.2 L1827.0 947.1 L1828.0 948.1 L1829.0 949.0 L1830.0 950.0 L1831.0 951.0 L1832.0 951.9 L1833.0 952.8 L1834.0 953.7 L1835.0 954.7 L1836.0 955.6 L1837.0 956.4 L1838.0 957.3 L1839.0 958.2 L1840.0 959.0 L1841.0 959.8 L1842.0 960.6 L1843.0 961.4 L1844.0 962.1 L1845.0 962.9 L1846.0 963.6 L1847.0 964.2 L1848.0 964.8 L1849.0 965.4 L1850.0 966.0 L1851.0 966.5 L1852.0 967.0 L1853.0 967.4 L1854.0 967.8 L1855.0 968.2 L1856.0 968.5 L1857.0 968.8 L1858.0 969.1 L1859.0 969.3 L1860.0 969.5 L1861.0 969.6 L1862.0 969.8 L1863.0 969.9 L1864.0 969.9 L1865.0 970.0 L1866.0 970.0 L1867.0 970.0 L1868.0 970.0 L2005.8 970.0" fill="none" stroke="#d1621a" stroke-width="4.8" stroke-linejoin="round" stroke-linecap="butt"/>
<path d="M269.2 970.0 L426.0 970.0 L427.0 970.0 L428.0 970.0 L429.0 970.0 L430.0 970.0 L431.0 970.0 L432.0 969.5 L433.0 968.7 L434.0 967.7 L435.0 966.2 L436.0 964.5 L437.0 962.4 L438.0 959.9 L439.0 957.2 L440.0 954.0 L441.0 950.5 L442.0 946.8 L443.0 942.9 L444.0 939.1 L445.0 935.4 L446.0 932.0 L447.0 928.9 L448.0 926.1 L449.0 923.4 L450.0 920.5 L451.0 917.5 L452.0 914.0 L453.0 910.0 L454.0 905.6 L455.0 900.8 L456.0 895.7 L457.0 890.3 L458.0 884.9 L459.0 879.4 L460.0 874.0 L461.0 868.7 L462.0 863.6 L463.0 858.6 L464.0 853.9 L465.0 849.5 L466.0 845.3 L467.0 841.5 L468.0 838.0 L469.0 834.9 L470.0 832.2 L471.0 830.0 L472.0 828.2 L473.0 827.0 L474.0 826.4 L475.0 826.4 L476.0 827.1 L477.0 828.3 L478.0 829.9 L479.0 831.9 L480.0 834.1 L481.0 836.3 L482.0 838.5 L483.0 840.5 L484.0 842.1 L485.0 843.3 L486.0 844.0 L487.0 843.9 L488.0 842.9 L489.0 840.7 L490.0 836.9 L491.0 831.4 L492.0 823.9 L493.0 814.0 L494.0 801.9 L495.0 788.5 L496.0 775.5 L497.0 764.0 L498.0 754.8 L499.0 745.4 L500.0 732.7 L501.0 713.4 L502.0 688.3 L503.0 661.4 L504.0 637.0 L505.0 618.5 L506.0 605.3 L507.0 596.0 L508.0 589.0 L509.0 583.1 L510.0 578.3 L511.0 574.7 L512.0 572.5 L513.0 572.0 L514.0 573.2 L515.0 575.7 L516.0 579.0 L517.0 582.6 L518.0 585.9 L519.0 588.5 L520.0 589.6 L521.0 589.0 L522.0 586.1 L523.0 581.3 L524.0 575.0 L525.0 567.6 L526.0 559.5 L527.0 551.1 L528.0 543.0 L529.0 535.4 L530.0 528.5 L531.0 522.4 L532.0 517.0 L533.0 512.5 L534.0 508.9 L535.0 506.1 L536.0 504.2 L537.0 503.2 L538.0 503.0 L539.0 503.7 L540.0 505.1 L541.0 507.1 L542.0 509.4 L543.0 512.0 L544.0 514.7 L545.0 517.5 L546.0 520.4 L547.0 523.6 L548.0 527.0 L549.0 530.7 L550.0 534.7 L551.0 538.9 L552.0 543.2 L553.0 547.6 L554.0 552.0 L555.0 556.3 L556.0 560.3 L557.0 563.6 L558.0 566.1 L559.0 567.3 L560.0 567.0 L561.0 565.0 L562.0 561.4 L563.0 556.4 L564.0 550.2 L565.0 543.0 L566.0 534.9 L567.0 526.2 L568.0 517.0 L569.0 507.5 L570.0 497.7 L571.0 487.6 L572.0 477.0 L573.0 466.1 L574.0 455.8 L575.0 447.0 L576.0 440.8 L577.0 438.0 L578.0 439.5 L579.0 444.8 L580.0 453.2 L581.0 464.2 L582.0 477.0 L583.0 491.0 L584.0 505.9 L585.0 521.3 L586.0 537.0 L587.0 552.7 L588.0 568.0 L589.0 582.9 L590.0 597.0 L591.0 610.1 L592.0 622.0 L593.0 632.4 L594.0 641.0 L595.0 647.7 L596.0 652.7 L597.0 656.4 L598.0 659.0 L599.0 660.9 L600.0 662.2 L601.0 663.0 L602.0 663.3 L603.0 663.4 L604.0 663.2 L605.0 662.9 L606.0 662.5 L607.0 662.2 L608.0 662.0 L609.0 662.0 L610.0 662.4 L611.0 663.0 L612.0 664.1 L613.0 665.5 L614.0 667.5 L615.0 669.9 L616.0 673.0 L617.0 676.7 L618.0 681.2 L619.0 686.6 L620.0 693.0 L621.0 700.6 L622.0 709.3 L623.0 718.9 L624.0 729.3 L625.0 740.4 L626.0 752.0 L627.0 764.0 L628.0 776.3 L629.0 788.6 L630.0 800.8 L631.0 812.7 L632.0 824.0 L633.0 834.6 L634.0 844.3 L635.0 853.2 L636.0 861.1 L637.0 868.0 L638.0 873.8 L639.0 878.6 L640.0 882.4 L641.0 885.4 L642.0 887.5 L643.0 889.0 L644.0 889.8 L645.0 890.1 L646.0 889.9 L647.0 889.3 L648.0 888.5 L649.0 887.4 L650.0 886.1 L651.0 884.9 L652.0 883.6 L653.0 882.5 L654.0 881.6 L655.0 881.0 L656.0 880.7 L657.0 880.8 L658.0 881.2 L659.0 881.8 L660.0 882.6 L661.0 883.6 L662.0 884.8 L663.0 886.0 L664.0 887.4 L665.0 888.7 L666.0 890.0 L667.0 891.3 L668.0 892.4 L669.0 893.5 L670.0 894.5 L671.0 895.2 L672.0 895.9 L673.0 896.3 L674.0 896.4 L675.0 896.4 L676.0 896.0 L677.0 895.3 L678.0 894.4 L679.0 893.2 L680.0 891.8 L681.0 890.1 L682.0 888.3 L683.0 886.2 L684.0 884.0 L685.0 881.7 L686.0 879.2 L687.0 876.6 L688.0 874.0 L689.0 871.3 L690.0 868.6 L691.0 866.1 L692.0 863.7 L693.0 861.5 L694.0 859.7 L695.0 858.3 L696.0 857.4 L697.0 857.0 L698.0 857.3 L699.0 858.1 L700.0 859.3 L701.0 861.0 L702.0 862.9 L703.0 865.1 L704.0 867.4 L705.0 869.7 L706.0 872.0 L707.0 874.2 L708.0 876.2 L709.0 878.1 L710.0 879.9 L711.0 881.5 L712.0 883.0 L713.0 884.4 L714.0 885.7 L715.0 886.9 L716.0 888.0 L717.0 889.0 L718.0 889.8 L719.0 890.6 L720.0 891.3 L721.0 891.8 L722.0 892.3 L723.0 892.6 L724.0 892.9 L725.0 893.0 L726.0 893.1 L727.0 893.0 L728.0 892.8 L729.0 892.6 L730.0 892.3 L731.0 891.9 L732.0 891.5 L733.0 891.0 L734.0 890.5 L735.0 890.1 L736.0 889.6 L737.0 889.1 L738.0 888.7 L739.0 888.3 L740.0 888.0 L741.0 887.8 L742.0 887.6 L743.0 887.6 L744.0 887.7 L745.0 887.8 L746.0 888.1 L747.0 888.5 L748.0 889.0 L749.0 889.6 L750.0 890.3 L751.0 891.0 L752.0 891.9 L753.0 892.8 L754.0 893.8 L755.0 894.9 L756.0 896.0 L757.0 897.2 L758.0 898.5 L759.0 899.7 L760.0 901.1 L761.0 902.4 L762.0 903.8 L763.0 905.2 L764.0 906.6 L765.0 908.0 L766.0 909.4 L767.0 910.7 L768.0 912.0 L769.0 913.3 L770.0 914.5 L771.0 915.6 L772.0 916.6 L773.0 917.4 L774.0 918.1 L775.0 918.7 L776.0 919.0 L777.0 919.1 L778.0 919.0 L779.0 918.6 L780.0 918.0 L781.0 917.2 L782.0 916.1 L783.0 914.9 L784.0 913.6 L785.0 912.1 L786.0 910.6 L787.0 909.0 L788.0 907.3 L789.0 905.7 L790.0 904.0 L791.0 902.4 L792.0 900.8 L793.0 899.3 L794.0 898.0 L795.0 896.8 L796.0 895.7 L797.0 894.9 L798.0 894.3 L799.0 894.0 L800.0 894.0 L801.0 894.3 L802.0 894.9 L803.0 895.8 L804.0 897.0 L805.0 898.4 L806.0 900.1 L807.0 901.9 L808.0 904.0 L809.0 906.2 L810.0 908.6 L811.0 911.1 L812.0 913.6 L813.0 916.2 L814.0 918.8 L815.0 921.4 L816.0 924.0 L817.0 926.5 L818.0 928.9 L819.0 931.1 L820.0 933.3 L821.0 935.2 L822.0 937.0 L823.0 938.6 L824.0 940.0 L825.0 941.1 L826.0 942.1 L827.0 942.8 L828.0 943.3 L829.0 943.7 L830.0 943.9 L831.0 944.0 L832.0 944.0 L833.0 943.9 L834.0 943.7 L835.0 943.5 L836.0 943.3 L837.0 943.0 L838.0 942.6 L839.0 942.3 L840.0 942.0 L841.0 941.7 L842.0 941.5 L843.0 941.2 L844.0 941.1 L845.0 941.0 L846.0 941.0 L847.0 941.1 L848.0 941.2 L849.0 941.4 L850.0 941.7 L851.0 942.0 L852.0 942.3 L853.0 942.7 L854.0 943.1 L855.0 943.5 L856.0 943.9 L857.0 944.3 L858.0 944.6 L859.0 945.0 L860.0 945.3 L861.0 945.5 L862.0 945.8 L863.0 945.9 L864.0 946.0 L865.0 946.0 L866.0 946.0 L867.0 945.8 L868.0 945.6 L869.0 945.4 L870.0 945.1 L871.0 944.8 L872.0 944.5 L873.0 944.1 L874.0 943.7 L875.0 943.3 L876.0 942.9 L877.0 942.4 L878.0 942.0 L879.0 941.6 L880.0 941.2 L881.0 940.9 L882.0 940.5 L883.0 940.2 L884.0 940.0 L885.0 939.8 L886.0 939.6 L887.0 939.5 L888.0 939.5 L889.0 939.5 L890.0 939.7 L891.0 939.8 L892.0 940.0 L893.0 940.3 L894.0 940.5 L895.0 940.8 L896.0 941.1 L897.0 941.4 L898.0 941.6 L899.0 941.8 L900.0 942.0 L901.0 942.2 L902.0 942.2 L903.0 942.2 L904.0 942.2 L905.0 942.0 L906.0 941.7 L907.0 941.4 L908.0 941.0 L909.0 940.5 L910.0 939.9 L911.0 939.3 L912.0 938.7 L913.0 938.1 L914.0 937.5 L915.0 936.9 L916.0 936.3 L917.0 935.8 L918.0 935.3 L919.0 934.8 L920.0 934.5 L921.0 934.2 L922.0 934.0 L923.0 933.9 L924.0 934.0 L925.0 934.2 L926.0 934.5 L927.0 934.9 L928.0 935.5 L929.0 936.1 L930.0 936.8 L931.0 937.5 L932.0 938.4 L933.0 939.2 L934.0 940.1 L935.0 941.1 L936.0 942.0 L937.0 942.9 L938.0 943.9 L939.0 944.8 L940.0 945.7 L941.0 946.5 L942.0 947.3 L943.0 948.1 L944.0 948.9 L945.0 949.5 L946.0 950.1 L947.0 950.7 L948.0 951.1 L949.0 951.5 L950.0 951.8 L951.0 952.0 L952.0 952.0 L953.0 952.0 L954.0 951.8 L955.0 951.6 L956.0 951.2 L957.0 950.7 L958.0 950.2 L959.0 949.6 L960.0 949.0 L961.0 948.3 L962.0 947.6 L963.0 946.8 L964.0 946.1 L965.0 945.3 L966.0 944.6 L967.0 943.9 L968.0 943.2 L969.0 942.6 L970.0 942.0 L971.0 941.5 L972.0 941.1 L973.0 940.7 L974.0 940.4 L975.0 940.1 L976.0 939.9 L977.0 939.7 L978.0 939.5 L979.0 939.4 L980.0 939.3 L981.0 939.2 L982.0 939.1 L983.0 939.1 L984.0 939.0 L985.0 938.9 L986.0 938.8 L987.0 938.8 L988.0 938.7 L989.0 938.5 L990.0 938.4 L991.0 938.2 L992.0 938.0 L993.0 937.8 L994.0 937.5 L995.0 937.2 L996.0 936.9 L997.0 936.5 L998.0 936.0 L999.0 935.5 L1000.0 934.9 L1001.0 934.4 L1002.0 933.7 L1003.0 933.1 L1004.0 932.4 L1005.0 931.7 L1006.0 931.0 L1007.0 930.3 L1008.0 929.6 L1009.0 928.9 L1010.0 928.3 L1011.0 927.6 L1012.0 927.0 L1013.0 926.4 L1014.0 925.9 L1015.0 925.4 L1016.0 924.9 L1017.0 924.4 L1018.0 923.9 L1019.0 923.4 L1020.0 923.0 L1021.0 922.5 L1022.0 922.0 L1023.0 921.5 L1024.0 921.0 L1025.0 920.5 L1026.0 920.0 L1027.0 919.5 L1028.0 919.1 L1029.0 918.7 L1030.0 918.4 L1031.0 918.2 L1032.0 918.0 L1033.0 918.0 L1034.0 918.1 L1035.0 918.2 L1036.0 918.5 L1037.0 918.8 L1038.0 919.1 L1039.0 919.5 L1040.0 919.9 L1041.0 920.2 L1042.0 920.5 L1043.0 920.8 L1044.0 920.9 L1045.0 921.0 L1046.0 921.0 L1047.0 920.9 L1048.0 920.6 L1049.0 920.2 L1050.0 919.8 L1051.0 919.3 L1052.0 918.8 L1053.0 918.3 L1054.0 917.8 L1055.0 917.3 L1056.0 916.9 L1057.0 916.5 L1058.0 916.2 L1059.0 916.1 L1060.0 916.0 L1061.0 916.1 L1062.0 916.3 L1063.0 916.8 L1064.0 917.4 L1065.0 918.2 L1066.0 919.2 L1067.0 920.5 L1068.0 922.0 L1069.0 923.8 L1070.0 925.7 L1071.0 927.9 L1072.0 930.2 L1073.0 932.6 L1074.0 935.1 L1075.0 937.5 L1076.0 940.0 L1077.0 942.4 L1078.0 944.7 L1079.0 946.9 L1080.0 949.0 L1081.0 951.0 L1082.0 952.8 L1083.0 954.5 L1084.0 956.0 L1085.0 957.3 L1086.0 958.4 L1087.0 959.4 L1088.0 960.2 L1089.0 960.9 L1090.0 961.5 L1091.0 962.0 L1092.0 962.5 L1093.0 962.9 L1094.0 963.2 L1095.0 963.6 L1096.0 964.0 L1097.0 964.4 L1098.0 964.8 L1099.0 965.3 L1100.0 965.7 L1101.0 966.2 L1102.0 966.7 L1103.0 967.1 L1104.0 967.5 L1105.0 968.0 L1106.0 968.3 L1107.0 968.7 L1108.0 969.0 L1109.0 969.3 L1110.0 969.5 L1111.0 969.6 L1112.0 969.8 L1113.0 969.9 L1114.0 970.0 L1115.0 970.0 L1116.0 970.0 L1452.0 970.0 L1453.0 970.0 L1454.0 970.0 L1455.0 970.0 L1456.0 970.0 L1457.0 970.0 L1458.0 969.9 L1459.0 969.7 L1460.0 969.5 L1461.0 969.2 L1462.0 968.9 L1463.0 968.4 L1464.0 968.0 L1465.0 967.5 L1466.0 967.0 L1467.0 966.5 L1468.0 966.0 L1469.0 965.5 L1470.0 965.1 L1471.0 964.6 L1472.0 964.2 L1473.0 963.9 L1474.0 963.5 L1475.0 963.3 L1476.0 963.0 L1477.0 962.8 L1478.0 962.6 L1479.0 962.5 L1480.0 962.4 L1481.0 962.3 L1482.0 962.3 L1483.0 962.3 L1484.0 962.3 L1485.0 962.3 L1486.0 962.4 L1487.0 962.5 L1488.0 962.6 L1489.0 962.7 L1490.0 962.8 L1491.0 962.9 L1492.0 963.0 L1493.0 963.1 L1494.0 963.2 L1495.0 963.3 L1496.0 963.4 L1497.0 963.5 L1498.0 963.6 L1499.0 963.6 L1500.0 963.7 L1501.0 963.7 L1502.0 963.7 L1503.0 963.7 L1504.0 963.6 L1505.0 963.5 L1506.0 963.4 L1507.0 963.2 L1508.0 963.1 L1509.0 962.9 L1510.0 962.6 L1511.0 962.4 L1512.0 962.1 L1513.0 961.9 L1514.0 961.6 L1515.0 961.3 L1516.0 961.0 L1517.0 960.7 L1518.0 960.4 L1519.0 960.1 L1520.0 959.8 L1521.0 959.5 L1522.0 959.2 L1523.0 959.0 L1524.0 958.8 L1525.0 958.6 L1526.0 958.5 L1527.0 958.4 L1528.0 958.3 L1529.0 958.3 L1530.0 958.4 L1531.0 958.5 L1532.0 958.7 L1533.0 958.9 L1534.0 959.2 L1535.0 959.5 L1536.0 959.8 L1537.0 960.1 L1538.0 960.4 L1539.0 960.7 L1540.0 961.0 L1541.0 961.3 L1542.0 961.6 L1543.0 961.8 L1544.0 962.0 L1545.0 962.1 L1546.0 962.2 L1547.0 962.3 L1548.0 962.3 L1549.0 962.3 L1550.0 962.2 L1551.0 962.2 L1552.0 962.1 L1553.0 962.0 L1554.0 962.0 L1555.0 961.9 L1556.0 961.9 L1557.0 961.9 L1558.0 961.9 L1559.0 962.0 L1560.0 962.1 L1561.0 962.2 L1562.0 962.4 L1563.0 962.7 L1564.0 963.0 L1565.0 963.4 L1566.0 963.9 L1567.0 964.4 L1568.0 964.9 L1569.0 965.4 L1570.0 966.0 L1571.0 966.5 L1572.0 967.0 L1573.0 967.5 L1574.0 967.9 L1575.0 968.2 L1576.0 968.6 L1577.0 968.9 L1578.0 969.1 L1579.0 969.3 L1580.0 969.5 L1581.0 969.6 L1582.0 969.8 L1583.0 969.8 L1584.0 969.9 L1585.0 970.0 L1586.0 970.0 L1587.0 970.0 L1588.0 970.0 L1690.0 970.0 L1691.0 970.0 L1692.0 970.0 L1693.0 970.0 L1694.0 969.9 L1695.0 969.9 L1696.0 969.8 L1697.0 969.8 L1698.0 969.7 L1699.0 969.7 L1700.0 969.6 L1701.0 969.5 L1702.0 969.5 L1703.0 969.4 L1704.0 969.3 L1705.0 969.3 L1706.0 969.2 L1707.0 969.1 L1708.0 969.1 L1709.0 969.0 L1710.0 968.9 L1711.0 968.9 L1712.0 968.8 L1713.0 968.7 L1714.0 968.7 L1715.0 968.6 L1716.0 968.6 L1717.0 968.5 L1718.0 968.4 L1719.0 968.4 L1720.0 968.3 L1721.0 968.3 L1722.0 968.2 L1723.0 968.2 L1724.0 968.1 L1725.0 968.1 L1726.0 968.1 L1727.0 968.0 L1728.0 968.0 L1729.0 967.9 L1730.0 967.9 L1731.0 967.9 L1732.0 967.8 L1733.0 967.8 L1734.0 967.8 L1735.0 967.7 L1736.0 967.7 L1737.0 967.7 L1738.0 967.6 L1739.0 967.6 L1740.0 967.6 L1741.0 967.6 L1742.0 967.5 L1743.0 967.5 L1744.0 967.5 L1745.0 967.5 L1746.0 967.5 L1747.0 967.4 L1748.0 967.4 L1749.0 967.4 L1750.0 967.4 L1751.0 967.4 L1752.0 967.4 L1753.0 967.4 L1754.0 967.3 L1755.0 967.3 L1756.0 967.3 L1757.0 967.3 L1758.0 967.3 L1759.0 967.3 L1760.0 967.3 L1761.0 967.3 L1762.0 967.3 L1763.0 967.3 L1764.0 967.3 L1765.0 967.3 L1766.0 967.3 L1767.0 967.3 L1768.0 967.3 L1769.0 967.3 L1770.0 967.3 L1771.0 967.3 L1772.0 967.3 L1773.0 967.3 L1774.0 967.3 L1775.0 967.3 L1776.0 967.3 L1777.0 967.4 L1778.0 967.4 L1779.0 967.4 L1780.0 967.4 L1781.0 967.4 L1782.0 967.4 L1783.0 967.4 L1784.0 967.4 L1785.0 967.5 L1786.0 967.5 L1787.0 967.5 L1788.0 967.5 L1789.0 967.5 L1790.0 967.5 L1791.0 967.6 L1792.0 967.6 L1793.0 967.6 L1794.0 967.6 L1795.0 967.6 L1796.0 967.7 L1797.0 967.7 L1798.0 967.7 L1799.0 967.7 L1800.0 967.7 L1801.0 967.8 L1802.0 967.8 L1803.0 967.8 L1804.0 967.8 L1805.0 967.9 L1806.0 967.9 L1807.0 967.9 L1808.0 967.9 L1809.0 968.0 L1810.0 968.0 L1811.0 968.0 L1812.0 968.0 L1813.0 968.1 L1814.0 968.1 L1815.0 968.1 L1816.0 968.1 L1817.0 968.2 L1818.0 968.2 L1819.0 968.2 L1820.0 968.2 L1821.0 968.3 L1822.0 968.3 L1823.0 968.3 L1824.0 968.4 L1825.0 968.4 L1826.0 968.4 L1827.0 968.4 L1828.0 968.5 L1829.0 968.5 L1830.0 968.5 L1831.0 968.6 L1832.0 968.6 L1833.0 968.6 L1834.0 968.6 L1835.0 968.7 L1836.0 968.7 L1837.0 968.7 L1838.0 968.7 L1839.0 968.8 L1840.0 968.8 L1841.0 968.8 L1842.0 968.9 L1843.0 968.9 L1844.0 968.9 L1845.0 968.9 L1846.0 969.0 L1847.0 969.0 L1848.0 969.0 L1849.0 969.1 L1850.0 969.1 L1851.0 969.1 L1852.0 969.2 L1853.0 969.2 L1854.0 969.3 L1855.0 969.3 L1856.0 969.4 L1857.0 969.4 L1858.0 969.5 L1859.0 969.5 L1860.0 969.6 L1861.0 969.7 L1862.0 969.7 L1863.0 969.8 L1864.0 969.9 L1865.0 969.9 L1866.0 970.0 L1867.0 970.0 L1868.0 970.0 L2005.8 970.0" fill="none" stroke="#8e8e8e" stroke-width="4.8" stroke-linejoin="round" stroke-linecap="butt"/>
<path d="M269.2 970.0 L426.0 970.0 L427.0 970.0 L428.0 970.0 L429.0 970.0 L430.0 970.0 L431.0 970.0 L432.0 969.9 L433.0 969.5 L434.0 968.9 L435.0 968.1 L436.0 967.0 L437.0 965.5 L438.0 963.7 L439.0 961.5 L440.0 958.9 L441.0 955.7 L442.0 952.1 L443.0 948.1 L444.0 943.7 L445.0 939.1 L446.0 934.5 L447.0 930.0 L448.0 925.7 L449.0 921.7 L450.0 917.9 L451.0 914.4 L452.0 911.1 L453.0 908.2 L454.0 905.5 L455.0 903.1 L456.0 900.9 L457.0 899.0 L458.0 897.4 L459.0 895.8 L460.0 894.4 L461.0 893.1 L462.0 891.9 L463.0 890.7 L464.0 889.5 L465.0 888.2 L466.0 887.0 L467.0 885.7 L468.0 884.5 L469.0 883.5 L470.0 882.6 L471.0 882.0 L472.0 881.7 L473.0 881.8 L474.0 882.2 L475.0 883.1 L476.0 884.3 L477.0 885.9 L478.0 887.7 L479.0 889.7 L480.0 891.8 L481.0 894.0 L482.0 896.2 L483.0 898.4 L484.0 900.4 L485.0 902.3 L486.0 903.9 L487.0 905.1 L488.0 905.9 L489.0 906.2 L490.0 906.0 L491.0 905.1 L492.0 903.7 L493.0 901.6 L494.0 899.0 L495.0 896.0 L496.0 892.4 L497.0 888.4 L498.0 884.0 L499.0 879.3 L500.0 874.3 L501.0 869.3 L502.0 864.5 L503.0 860.0 L504.0 856.0 L505.0 852.6 L506.0 849.9 L507.0 847.8 L508.0 846.2 L509.0 845.2 L510.0 844.7 L511.0 844.8 L512.0 845.2 L513.0 846.1 L514.0 847.4 L515.0 848.9 L516.0 850.5 L517.0 852.3 L518.0 854.2 L519.0 856.0 L520.0 857.6 L521.0 859.1 L522.0 860.4 L523.0 861.3 L524.0 861.7 L525.0 861.8 L526.0 861.5 L527.0 860.8 L528.0 860.0 L529.0 858.9 L530.0 857.8 L531.0 856.5 L532.0 855.4 L533.0 854.2 L534.0 853.3 L535.0 852.5 L536.0 852.0 L537.0 851.8 L538.0 852.0 L539.0 852.4 L540.0 853.1 L541.0 854.0 L542.0 855.2 L543.0 856.6 L544.0 858.1 L545.0 859.8 L546.0 861.7 L547.0 863.7 L548.0 865.7 L549.0 867.8 L550.0 870.0 L551.0 872.2 L552.0 874.4 L553.0 876.5 L554.0 878.6 L555.0 880.5 L556.0 882.3 L557.0 884.0 L558.0 885.4 L559.0 886.5 L560.0 887.4 L561.0 888.0 L562.0 888.2 L563.0 888.0 L564.0 887.4 L565.0 886.5 L566.0 885.3 L567.0 883.8 L568.0 882.3 L569.0 880.6 L570.0 879.0 L571.0 877.4 L572.0 876.0 L573.0 874.7 L574.0 873.8 L575.0 873.2 L576.0 873.0 L577.0 873.3 L578.0 874.1 L579.0 875.3 L580.0 877.0 L581.0 879.1 L582.0 881.7 L583.0 884.6 L584.0 888.0 L585.0 891.7 L586.0 895.7 L587.0 899.9 L588.0 904.1 L589.0 908.1 L590.0 912.0 L591.0 915.5 L592.0 918.7 L593.0 921.6 L594.0 924.1 L595.0 926.3 L596.0 928.1 L597.0 929.6 L598.0 930.8 L599.0 931.6 L600.0 932.1 L601.0 932.2 L602.0 932.0 L603.0 931.5 L604.0 930.6 L605.0 929.5 L606.0 928.2 L607.0 926.7 L608.0 925.1 L609.0 923.3 L610.0 921.6 L611.0 919.8 L612.0 918.0 L613.0 916.3 L614.0 914.7 L615.0 913.2 L616.0 911.9 L617.0 910.8 L618.0 909.9 L619.0 909.3 L620.0 908.9 L621.0 908.9 L622.0 909.2 L623.0 909.8 L624.0 910.7 L625.0 911.9 L626.0 913.3 L627.0 914.8 L628.0 916.5 L629.0 918.2 L630.0 920.0 L631.0 921.8 L632.0 923.5 L633.0 925.1 L634.0 926.6 L635.0 927.9 L636.0 928.9 L637.0 929.7 L638.0 930.2 L639.0 930.3 L640.0 930.0 L641.0 929.3 L642.0 928.2 L643.0 926.8 L644.0 925.2 L645.0 923.4 L646.0 921.6 L647.0 919.8 L648.0 918.0 L649.0 916.4 L650.0 914.9 L651.0 913.5 L652.0 912.3 L653.0 911.2 L654.0 910.2 L655.0 909.4 L656.0 908.7 L657.0 908.1 L658.0 907.6 L659.0 907.2 L660.0 907.0 L661.0 906.8 L662.0 906.6 L663.0 906.6 L664.0 906.5 L665.0 906.5 L666.0 906.5 L667.0 906.5 L668.0 906.5 L669.0 906.5 L670.0 906.4 L671.0 906.2 L672.0 906.0 L673.0 905.5 L674.0 904.8 L675.0 903.7 L676.0 902.3 L677.0 900.4 L678.0 898.0 L679.0 895.0 L680.0 891.6 L681.0 887.7 L682.0 883.4 L683.0 878.8 L684.0 874.0 L685.0 869.0 L686.0 864.0 L687.0 859.0 L688.0 854.1 L689.0 849.4 L690.0 845.0 L691.0 840.9 L692.0 837.3 L693.0 834.0 L694.0 831.2 L695.0 828.9 L696.0 827.1 L697.0 825.8 L698.0 824.9 L699.0 824.5 L700.0 824.6 L701.0 825.2 L702.0 826.2 L703.0 827.8 L704.0 830.0 L705.0 832.7 L706.0 835.8 L707.0 839.0 L708.0 842.2 L709.0 845.1 L710.0 847.6 L711.0 849.8 L712.0 851.6 L713.0 853.0 L714.0 854.1 L715.0 855.0 L716.0 855.6 L717.0 856.1 L718.0 856.5 L719.0 856.8 L720.0 857.1 L721.0 857.5 L722.0 857.7 L723.0 857.9 L724.0 858.1 L725.0 858.0 L726.0 857.9 L727.0 857.5 L728.0 857.0 L729.0 856.4 L730.0 855.6 L731.0 854.6 L732.0 853.6 L733.0 852.5 L734.0 851.3 L735.0 850.1 L736.0 848.8 L737.0 847.4 L738.0 846.0 L739.0 844.5 L740.0 843.0 L741.0 841.4 L742.0 839.8 L743.0 838.2 L744.0 836.6 L745.0 835.0 L746.0 833.5 L747.0 832.1 L748.0 830.8 L749.0 829.6 L750.0 828.5 L751.0 827.6 L752.0 827.0 L753.0 826.5 L754.0 826.3 L755.0 826.3 L756.0 826.6 L757.0 827.2 L758.0 828.0 L759.0 829.0 L760.0 830.2 L761.0 831.6 L762.0 833.1 L763.0 834.7 L764.0 836.4 L765.0 838.2 L766.0 840.0 L767.0 841.8 L768.0 843.7 L769.0 845.4 L770.0 847.1 L771.0 848.7 L772.0 850.2 L773.0 851.4 L774.0 852.5 L775.0 853.3 L776.0 853.8 L777.0 854.0 L778.0 853.9 L779.0 853.4 L780.0 852.5 L781.0 851.1 L782.0 849.3 L783.0 846.9 L784.0 843.9 L785.0 840.3 L786.0 836.0 L787.0 831.1 L788.0 825.6 L789.0 819.7 L790.0 813.6 L791.0 807.4 L792.0 801.3 L793.0 795.5 L794.0 790.0 L795.0 785.1 L796.0 780.7 L797.0 777.0 L798.0 774.1 L799.0 771.8 L800.0 770.4 L801.0 769.9 L802.0 770.3 L803.0 771.5 L804.0 773.7 L805.0 776.6 L806.0 780.2 L807.0 784.4 L808.0 789.1 L809.0 794.4 L810.0 800.0 L811.0 805.9 L812.0 812.1 L813.0 818.4 L814.0 824.7 L815.0 830.9 L816.0 836.9 L817.0 842.7 L818.0 848.0 L819.0 852.9 L820.0 857.3 L821.0 861.1 L822.0 864.5 L823.0 867.3 L824.0 869.6 L825.0 871.4 L826.0 872.6 L827.0 873.3 L828.0 873.4 L829.0 873.0 L830.0 872.0 L831.0 870.5 L832.0 868.5 L833.0 866.3 L834.0 863.7 L835.0 860.9 L836.0 858.0 L837.0 855.0 L838.0 852.0 L839.0 849.1 L840.0 846.3 L841.0 843.7 L842.0 841.4 L843.0 839.3 L844.0 837.6 L845.0 836.3 L846.0 835.4 L847.0 835.0 L848.0 835.1 L849.0 835.7 L850.0 836.8 L851.0 838.1 L852.0 839.8 L853.0 841.7 L854.0 843.7 L855.0 845.9 L856.0 848.1 L857.0 850.2 L858.0 852.3 L859.0 854.2 L860.0 855.8 L861.0 857.2 L862.0 858.2 L863.0 858.9 L864.0 859.0 L865.0 858.6 L866.0 857.7 L867.0 856.4 L868.0 854.6 L869.0 852.4 L870.0 849.9 L871.0 847.1 L872.0 844.1 L873.0 840.8 L874.0 837.3 L875.0 833.7 L876.0 830.0 L877.0 826.2 L878.0 822.5 L879.0 818.7 L880.0 815.0 L881.0 811.5 L882.0 808.1 L883.0 804.9 L884.0 802.0 L885.0 799.4 L886.0 797.1 L887.0 795.1 L888.0 793.4 L889.0 792.1 L890.0 791.2 L891.0 790.6 L892.0 790.3 L893.0 790.5 L894.0 791.0 L895.0 791.9 L896.0 793.2 L897.0 794.7 L898.0 796.3 L899.0 798.1 L900.0 800.0 L901.0 801.8 L902.0 803.5 L903.0 805.0 L904.0 806.3 L905.0 807.3 L906.0 807.9 L907.0 808.0 L908.0 807.6 L909.0 806.8 L910.0 805.5 L911.0 803.8 L912.0 801.9 L913.0 799.6 L914.0 797.1 L915.0 794.5 L916.0 791.7 L917.0 788.9 L918.0 786.0 L919.0 783.2 L920.0 780.5 L921.0 778.0 L922.0 775.8 L923.0 774.0 L924.0 772.7 L925.0 772.0 L926.0 772.0 L927.0 772.7 L928.0 774.2 L929.0 776.4 L930.0 779.2 L931.0 782.6 L932.0 786.6 L933.0 791.1 L934.0 796.0 L935.0 801.3 L936.0 807.0 L937.0 812.9 L938.0 818.9 L939.0 824.9 L940.0 830.8 L941.0 836.5 L942.0 842.0 L943.0 847.1 L944.0 851.8 L945.0 856.0 L946.0 859.9 L947.0 863.2 L948.0 866.2 L949.0 868.6 L950.0 870.5 L951.0 871.9 L952.0 872.7 L953.0 873.0 L954.0 872.7 L955.0 871.9 L956.0 870.6 L957.0 868.8 L958.0 866.6 L959.0 863.9 L960.0 860.9 L961.0 857.6 L962.0 854.0 L963.0 850.1 L964.0 846.0 L965.0 841.8 L966.0 837.3 L967.0 832.8 L968.0 828.2 L969.0 823.6 L970.0 819.0 L971.0 814.5 L972.0 810.0 L973.0 805.7 L974.0 801.5 L975.0 797.4 L976.0 793.5 L977.0 789.8 L978.0 786.3 L979.0 783.1 L980.0 780.0 L981.0 777.2 L982.0 774.6 L983.0 772.3 L984.0 770.2 L985.0 768.3 L986.0 766.7 L987.0 765.3 L988.0 764.2 L989.0 763.3 L990.0 762.6 L991.0 762.2 L992.0 762.0 L993.0 762.1 L994.0 762.3 L995.0 762.7 L996.0 763.2 L997.0 763.7 L998.0 764.3 L999.0 764.8 L1000.0 765.2 L1001.0 765.5 L1002.0 765.6 L1003.0 765.4 L1004.0 765.0 L1005.0 764.3 L1006.0 763.3 L1007.0 762.1 L1008.0 760.7 L1009.0 759.2 L1010.0 757.6 L1011.0 756.1 L1012.0 754.6 L1013.0 753.2 L1014.0 752.0 L1015.0 751.0 L1016.0 750.1 L1017.0 749.4 L1018.0 748.9 L1019.0 748.4 L1020.0 747.9 L1021.0 747.5 L1022.0 747.1 L1023.0 746.6 L1024.0 746.1 L1025.0 745.5 L1026.0 744.9 L1027.0 744.2 L1028.0 743.4 L1029.0 742.7 L1030.0 742.1 L1031.0 741.8 L1032.0 741.8 L1033.0 742.3 L1034.0 743.3 L1035.0 744.7 L1036.0 746.5 L1037.0 748.7 L1038.0 751.1 L1039.0 753.6 L1040.0 756.0 L1041.0 758.3 L1042.0 760.3 L1043.0 762.1 L1044.0 763.6 L1045.0 764.8 L1046.0 765.6 L1047.0 766.0 L1048.0 766.0 L1049.0 765.6 L1050.0 764.9 L1051.0 764.0 L1052.0 763.0 L1053.0 761.8 L1054.0 760.7 L1055.0 759.5 L1056.0 758.5 L1057.0 757.7 L1058.0 757.2 L1059.0 757.0 L1060.0 757.2 L1061.0 757.8 L1062.0 759.0 L1063.0 760.7 L1064.0 763.1 L1065.0 766.2 L1066.0 770.0 L1067.0 774.6 L1068.0 780.0 L1069.0 786.3 L1070.0 793.3 L1071.0 801.3 L1072.0 810.0 L1073.0 819.5 L1074.0 829.6 L1075.0 839.9 L1076.0 850.0 L1077.0 859.7 L1078.0 869.0 L1079.0 877.7 L1080.0 885.8 L1081.0 893.2 L1082.0 900.0 L1083.0 906.1 L1084.0 911.5 L1085.0 916.3 L1086.0 920.6 L1087.0 924.4 L1088.0 927.9 L1089.0 931.1 L1090.0 934.0 L1091.0 936.8 L1092.0 939.4 L1093.0 941.9 L1094.0 944.3 L1095.0 946.5 L1096.0 948.6 L1097.0 950.6 L1098.0 952.5 L1099.0 954.3 L1100.0 956.0 L1101.0 957.6 L1102.0 959.2 L1103.0 960.6 L1104.0 961.9 L1105.0 963.2 L1106.0 964.3 L1107.0 965.4 L1108.0 966.3 L1109.0 967.2 L1110.0 967.9 L1111.0 968.5 L1112.0 969.0 L1113.0 969.4 L1114.0 969.6 L1115.0 969.8 L1116.0 969.9 L1117.0 970.0 L1118.0 970.0 L1119.0 970.0 L1120.0 970.0 L1448.0 970.0 L1449.0 970.0 L1450.0 970.0 L1451.0 970.0 L1452.0 970.0 L1453.0 969.9 L1454.0 969.8 L1455.0 969.7 L1456.0 969.5 L1457.0 969.2 L1458.0 968.9 L1459.0 968.4 L1460.0 967.8 L1461.0 967.1 L1462.0 966.2 L1463.0 965.2 L1464.0 964.0 L1465.0 962.6 L1466.0 961.0 L1467.0 959.4 L1468.0 957.6 L1469.0 955.8 L1470.0 954.0 L1471.0 952.2 L1472.0 950.5 L1473.0 948.9 L1474.0 947.5 L1475.0 946.1 L1476.0 945.0 L1477.0 944.1 L1478.0 943.3 L1479.0 942.7 L1480.0 942.3 L1481.0 942.1 L1482.0 941.9 L1483.0 941.9 L1484.0 942.0 L1485.0 942.2 L1486.0 942.4 L1487.0 942.7 L1488.0 943.1 L1489.0 943.5 L1490.0 944.0 L1491.0 944.5 L1492.0 945.0 L1493.0 945.5 L1494.0 946.0 L1495.0 946.5 L1496.0 947.0 L1497.0 947.4 L1498.0 947.8 L1499.0 948.2 L1500.0 948.5 L1501.0 948.7 L1502.0 948.9 L1503.0 949.0 L1504.0 949.1 L1505.0 949.0 L1506.0 948.8 L1507.0 948.6 L1508.0 948.2 L1509.0 947.7 L1510.0 947.2 L1511.0 946.5 L1512.0 945.8 L1513.0 944.9 L1514.0 944.0 L1515.0 943.0 L1516.0 941.9 L1517.0 940.7 L1518.0 939.5 L1519.0 938.2 L1520.0 936.9 L1521.0 935.7 L1522.0 934.4 L1523.0 933.2 L1524.0 932.0 L1525.0 930.9 L1526.0 929.8 L1527.0 928.9 L1528.0 928.1 L1529.0 927.4 L1530.0 926.8 L1531.0 926.3 L1532.0 926.1 L1533.0 926.0 L1534.0 926.1 L1535.0 926.4 L1536.0 926.8 L1537.0 927.3 L1538.0 928.0 L1539.0 928.7 L1540.0 929.4 L1541.0 930.2 L1542.0 931.0 L1543.0 931.7 L1544.0 932.4 L1545.0 933.0 L1546.0 933.4 L1547.0 933.8 L1548.0 934.0 L1549.0 934.0 L1550.0 933.9 L1551.0 933.6 L1552.0 933.1 L1553.0 932.5 L1554.0 931.8 L1555.0 931.0 L1556.0 930.0 L1557.0 929.0 L1558.0 927.9 L1559.0 926.9 L1560.0 926.0 L1561.0 925.4 L1562.0 925.0 L1563.0 925.0 L1564.0 925.4 L1565.0 926.3 L1566.0 927.6 L1567.0 929.3 L1568.0 931.5 L1569.0 934.0 L1570.0 936.9 L1571.0 940.1 L1572.0 943.4 L1573.0 946.8 L1574.0 950.0 L1575.0 953.0 L1576.0 955.7 L1577.0 958.2 L1578.0 960.4 L1579.0 962.3 L1580.0 964.0 L1581.0 965.4 L1582.0 966.5 L1583.0 967.4 L1584.0 968.1 L1585.0 968.6 L1586.0 969.0 L1587.0 969.3 L1588.0 969.5 L1589.0 969.7 L1590.0 969.8 L1591.0 969.9 L1592.0 969.9 L1593.0 970.0 L1594.0 970.0 L1595.0 970.0 L1596.0 970.0 L1692.0 970.0 L1693.0 970.0 L1694.0 970.0 L1695.0 969.9 L1696.0 969.9 L1697.0 969.8 L1698.0 969.7 L1699.0 969.6 L1700.0 969.5 L1701.0 969.4 L1702.0 969.2 L1703.0 969.1 L1704.0 968.9 L1705.0 968.6 L1706.0 968.4 L1707.0 968.1 L1708.0 967.8 L1709.0 967.4 L1710.0 967.0 L1711.0 966.5 L1712.0 966.0 L1713.0 965.4 L1714.0 964.8 L1715.0 964.2 L1716.0 963.5 L1717.0 962.9 L1718.0 962.2 L1719.0 961.6 L1720.0 961.0 L1721.0 960.5 L1722.0 960.0 L1723.0 959.5 L1724.0 959.1 L1725.0 958.8 L1726.0 958.4 L1727.0 958.1 L1728.0 957.9 L1729.0 957.6 L1730.0 957.4 L1731.0 957.2 L1732.0 957.0 L1733.0 956.9 L1734.0 956.7 L1735.0 956.6 L1736.0 956.5 L1737.0 956.4 L1738.0 956.3 L1739.0 956.3 L1740.0 956.2 L1741.0 956.2 L1742.0 956.2 L1743.0 956.2 L1744.0 956.2 L1745.0 956.2 L1746.0 956.2 L1747.0 956.3 L1748.0 956.3 L1749.0 956.3 L1750.0 956.4 L1751.0 956.4 L1752.0 956.5 L1753.0 956.6 L1754.0 956.6 L1755.0 956.7 L1756.0 956.7 L1757.0 956.8 L1758.0 956.9 L1759.0 956.9 L1760.0 957.0 L1761.0 957.1 L1762.0 957.1 L1763.0 957.2 L1764.0 957.2 L1765.0 957.3 L1766.0 957.3 L1767.0 957.4 L1768.0 957.4 L1769.0 957.4 L1770.0 957.5 L1771.0 957.5 L1772.0 957.6 L1773.0 957.6 L1774.0 957.6 L1775.0 957.7 L1776.0 957.7 L1777.0 957.8 L1778.0 957.8 L1779.0 957.8 L1780.0 957.9 L1781.0 957.9 L1782.0 958.0 L1783.0 958.0 L1784.0 958.1 L1785.0 958.1 L1786.0 958.2 L1787.0 958.2 L1788.0 958.3 L1789.0 958.3 L1790.0 958.4 L1791.0 958.5 L1792.0 958.5 L1793.0 958.6 L1794.0 958.7 L1795.0 958.8 L1796.0 958.9 L1797.0 958.9 L1798.0 959.0 L1799.0 959.1 L1800.0 959.2 L1801.0 959.3 L1802.0 959.4 L1803.0 959.6 L1804.0 959.7 L1805.0 959.8 L1806.0 959.9 L1807.0 960.0 L1808.0 960.2 L1809.0 960.3 L1810.0 960.4 L1811.0 960.6 L1812.0 960.7 L1813.0 960.9 L1814.0 961.0 L1815.0 961.2 L1816.0 961.3 L1817.0 961.5 L1818.0 961.7 L1819.0 961.8 L1820.0 962.0 L1821.0 962.2 L1822.0 962.4 L1823.0 962.5 L1824.0 962.7 L1825.0 962.9 L1826.0 963.1 L1827.0 963.3 L1828.0 963.5 L1829.0 963.7 L1830.0 963.9 L1831.0 964.1 L1832.0 964.3 L1833.0 964.5 L1834.0 964.7 L1835.0 965.0 L1836.0 965.2 L1837.0 965.4 L1838.0 965.6 L1839.0 965.8 L1840.0 966.0 L1841.0 966.2 L1842.0 966.4 L1843.0 966.6 L1844.0 966.8 L1845.0 967.0 L1846.0 967.2 L1847.0 967.4 L1848.0 967.6 L1849.0 967.8 L1850.0 968.0 L1851.0 968.2 L1852.0 968.3 L1853.0 968.5 L1854.0 968.7 L1855.0 968.8 L1856.0 969.0 L1857.0 969.1 L1858.0 969.3 L1859.0 969.4 L1860.0 969.5 L1861.0 969.6 L1862.0 969.7 L1863.0 969.8 L1864.0 969.9 L1865.0 969.9 L1866.0 970.0 L1867.0 970.0 L1868.0 970.0 L2005.8 970.0" fill="none" stroke="#eaa800" stroke-width="4.8" stroke-linejoin="round" stroke-linecap="butt"/>
</g>
<text class="tick" x="224.6" y="986.3" text-anchor="end">0</text>
<text class="tick" x="224.6" y="876.1" text-anchor="end">10</text>
<text class="tick" x="224.6" y="765.9" text-anchor="end">20</text>
<text class="tick" x="224.6" y="655.7" text-anchor="end">30</text>
<text class="tick" x="224.6" y="545.5" text-anchor="end">40</text>
<text class="tick" x="224.6" y="435.2" text-anchor="end">50</text>
<text class="tick" x="224.6" y="325.0" text-anchor="end">60</text>
<text class="tick" x="224.6" y="214.8" text-anchor="end">70</text>
<text class="tick" x="224.6" y="104.6" text-anchor="end">80</text>
<text class="tick" x="270.1" y="1051.4" text-anchor="middle">-7.5</text>
<text class="tick" x="504.7" y="1051.4" text-anchor="middle">-5.5</text>
<text class="tick" x="739.3" y="1051.4" text-anchor="middle">-3.5</text>
<text class="tick" x="973.9" y="1051.4" text-anchor="middle">-1.5</text>
<text class="tick" x="1207.1" y="1051.4" text-anchor="middle">0.5</text>
<text class="tick" x="1441.7" y="1051.4" text-anchor="middle">2.5</text>
<text class="tick" x="1676.2" y="1051.4" text-anchor="middle">4.5</text>
<text class="tick" x="1910.8" y="1051.4" text-anchor="middle">6.5</text>
<text class="title" x="1149" y="1134.7" text-anchor="middle" textLength="281" lengthAdjust="spacingAndGlyphs">Energy (eV)</text>
<text class="title" transform="translate(142 529.3) rotate(-90)" x="0" y="0" text-anchor="middle" textLength="475" lengthAdjust="spacingAndGlyphs">Density (states/eV)</text>
<text class="tag" x="1954.4" y="198" text-anchor="middle" textLength="99" lengthAdjust="spacingAndGlyphs">(a)</text>
<rect x="2124.2" y="472.2" width="87.2" height="6.2" rx="1.8" fill="#1e4c9f"/>
<text class="leg" x="2214.6" y="492.8" textLength="161" lengthAdjust="spacingAndGlyphs">TOTAL</text>
<rect x="2124.2" y="567.3" width="87.2" height="6.2" rx="1.8" fill="#d1621a"/>
<text class="leg" x="2214.6" y="587.9" textLength="45.5" lengthAdjust="spacingAndGlyphs">Ti</text>
<rect x="2124.2" y="665.6" width="87.2" height="6.2" rx="1.8" fill="#8e8e8e"/>
<text class="leg" x="2214.6" y="686.2" textLength="61.5" lengthAdjust="spacingAndGlyphs">Zn</text>
<rect x="2124.2" y="762.8" width="87.2" height="6.2" rx="1.8" fill="#eaa800"/>
<text class="leg" x="2214.6" y="783.4" textLength="40.5" lengthAdjust="spacingAndGlyphs">O</text>
</svg>
</body>
</html>
